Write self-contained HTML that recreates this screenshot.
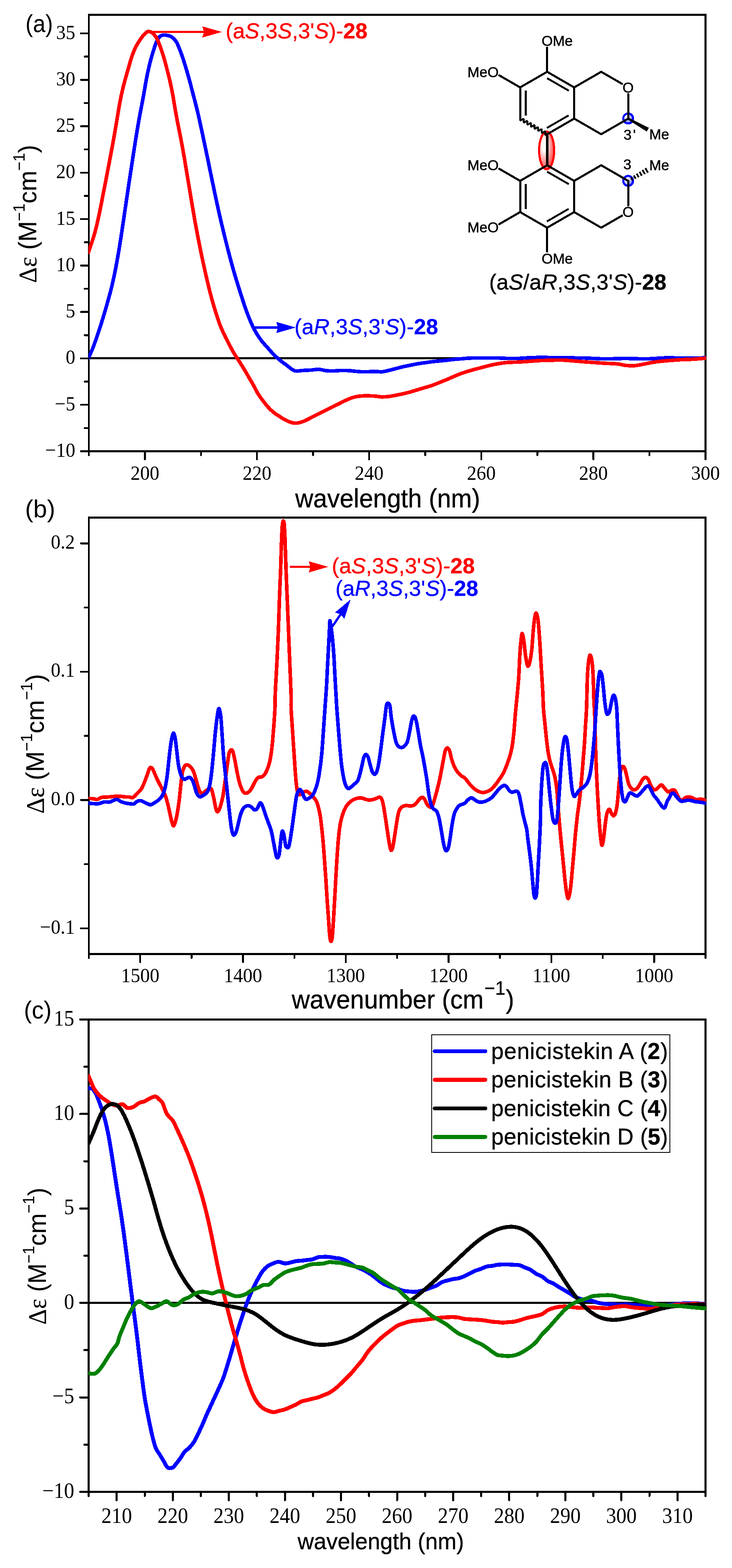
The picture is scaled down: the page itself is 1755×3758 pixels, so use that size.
<!DOCTYPE html>
<html lang="en"><head><meta charset="utf-8"><title>ECD and VCD spectra</title>
<style>html,body{margin:0;padding:0;background:#fff}svg{display:block}</style></head><body>
<svg width="1755" height="3758" viewBox="0 0 1755 3758" shape-rendering="crispEdges">
<rect width="1755" height="3758" fill="#fff"/>
<defs><clipPath id="ca"><rect x="212.0" y="35.5" width="1481.0" height="1046.0"/></clipPath>
<clipPath id="cb"><rect x="212.0" y="1240.5" width="1481.0" height="1046.0"/></clipPath>
<clipPath id="cc"><rect x="211.5" y="2443.5" width="1481.5" height="1132.0"/></clipPath></defs>
<g id="plot-a">
<line x1="213.0" y1="858.5" x2="1691.5" y2="858.5" stroke="#000" stroke-width="5"/>
<rect x="213.00" y="35.50" width="1478.50" height="1046.00" fill="none" stroke="#000" stroke-width="4.6"/>
<path d="M210.8,861.5C211.2,860.5 211.2,860.5 213.3,855.7C215.4,850.8 220.0,841.0 223.3,832.4C226.6,823.8 229.9,814.0 233.3,804.3C236.6,794.7 239.9,784.5 243.1,774.4C246.3,764.3 249.5,753.4 252.3,743.9C255.1,734.4 257.6,725.4 259.9,717.2C262.2,709.0 264.0,702.3 266.0,694.7C267.9,687.1 269.6,679.8 271.5,671.4C273.3,663.1 275.2,653.9 277.0,644.6C278.8,635.3 280.6,625.4 282.3,615.7C284.0,605.9 285.7,595.9 287.3,586.0C288.9,576.0 290.4,566.0 292.0,556.0C293.5,546.1 294.9,536.1 296.4,526.1C297.9,516.1 299.3,506.2 300.8,496.2C302.2,486.2 303.7,476.2 305.2,466.3C306.7,456.3 308.1,446.3 309.6,436.3C311.1,426.4 312.6,416.4 314.2,406.4C315.7,396.4 317.2,386.6 318.7,376.5C320.3,366.4 321.8,356.3 323.5,345.7C325.2,335.0 326.9,323.7 328.8,312.7C330.6,301.7 332.7,289.9 334.5,279.8C336.4,269.7 338.2,260.4 339.8,252.0C341.4,243.7 342.7,236.8 344.0,229.8C345.2,222.7 346.3,216.3 347.5,209.6C348.6,202.9 349.8,196.3 351.0,189.8C352.3,183.2 353.6,176.7 355.0,170.3C356.4,164.0 357.8,157.7 359.3,151.6C360.8,145.6 362.4,139.6 364.1,134.0C365.7,128.3 367.3,123.0 369.0,117.9C370.6,112.7 372.3,107.3 374.0,103.2C375.6,99.1 377.3,95.9 379.0,93.2C380.6,90.5 382.2,88.4 384.0,86.9C385.8,85.4 387.8,84.9 389.8,84.4C391.7,83.9 393.4,83.9 395.6,84.1C397.8,84.2 400.6,84.6 403.1,85.2C405.6,85.9 408.2,86.6 410.6,87.9C412.9,89.2 415.1,91.1 417.2,93.2C419.3,95.4 421.2,97.7 423.0,100.7C424.8,103.8 426.4,107.6 428.0,111.5C429.7,115.4 431.3,119.6 433.0,124.0C434.7,128.5 436.3,133.4 438.0,138.3C439.7,143.3 441.3,148.5 443.0,153.7C444.6,158.9 446.3,164.4 447.9,169.8C449.5,175.2 451.1,180.8 452.6,186.3C454.2,191.8 455.6,197.4 457.1,202.8C458.5,208.3 459.8,213.5 461.2,219.0C462.6,224.4 463.9,229.4 465.5,235.4C467.0,241.3 468.7,247.5 470.4,254.5C472.2,261.5 474.1,269.3 475.9,277.2C477.7,285.1 479.5,293.4 481.3,301.9C483.2,310.4 485.0,319.1 486.9,328.2C488.9,337.4 491.0,347.0 493.0,356.7C495.1,366.4 497.2,376.5 499.2,386.5C501.3,396.4 503.3,406.4 505.3,416.4C507.4,426.4 509.4,436.3 511.5,446.3C513.6,456.3 515.6,466.3 517.8,476.2C519.9,486.2 522.1,496.2 524.3,506.2C526.5,516.1 528.8,526.1 531.2,536.1C533.6,546.1 536.0,556.0 538.4,566.0C540.9,576.0 543.4,586.0 545.9,595.9C548.5,605.9 551.1,616.0 553.7,625.6C556.3,635.3 559.1,645.1 561.6,654.0C564.2,662.8 566.7,671.2 569.1,678.7C571.4,686.3 573.5,692.8 575.6,699.5C577.8,706.2 579.7,712.3 581.9,719.1C584.1,725.8 586.4,733.0 588.9,740.1C591.4,747.3 594.2,754.8 597.2,761.9C600.1,769.1 603.2,776.5 606.4,783.1C609.6,789.7 612.8,795.6 616.4,801.4C620.0,807.2 623.9,812.8 628.0,818.0C632.2,823.3 636.9,828.0 641.3,833.0C645.7,838.0 649.9,843.1 654.6,848.0C659.3,852.8 664.3,857.5 669.6,861.9C674.8,866.4 680.1,870.1 686.2,874.6C692.3,879.0 699.5,886.3 706.2,888.5C712.8,890.7 719.5,888.1 726.1,887.9C732.8,887.6 739.7,887.3 746.1,886.9C752.4,886.4 758.2,884.9 764.3,885.2C770.4,885.5 776.3,887.9 782.6,888.5C789.0,889.1 796.5,889.0 802.6,888.9C808.7,888.8 813.1,887.9 819.2,887.9C825.3,887.8 832.5,888.1 839.2,888.5C845.8,889.0 853.0,890.1 859.1,890.5C865.2,891.0 868.9,891.2 875.7,891.2C882.5,891.1 893.5,890.2 900.0,890.2C906.5,890.2 909.5,891.6 914.9,891.2C920.3,890.8 926.6,889.1 932.4,887.7C938.2,886.4 944.0,884.7 949.8,883.2C955.6,881.7 961.5,880.0 967.3,878.7C973.1,877.3 978.9,876.3 984.7,875.2C990.6,874.0 996.4,872.7 1002.2,871.7C1008.0,870.7 1013.8,870.0 1019.7,869.2C1025.5,868.4 1031.3,867.5 1037.1,866.8C1042.9,866.1 1048.7,865.6 1054.6,865.0C1060.4,864.5 1066.2,863.9 1072.0,863.3C1077.8,862.7 1083.7,861.8 1089.5,861.2C1095.3,860.6 1101.1,860.3 1106.9,859.8C1112.8,859.3 1118.6,858.7 1124.4,858.4C1130.2,858.1 1136.0,858.1 1141.8,858.1C1147.7,858.0 1153.5,858.1 1159.3,858.1C1165.1,858.1 1170.9,858.1 1176.8,858.1C1182.6,858.1 1188.4,857.9 1194.2,858.1C1200.0,858.2 1205.9,858.6 1211.7,858.8C1217.5,858.9 1223.3,859.1 1229.1,859.1C1234.9,859.1 1240.8,859.0 1246.6,858.8C1252.4,858.5 1258.2,858.0 1264.0,857.7C1269.9,857.4 1275.5,857.2 1281.5,857.0C1287.5,856.8 1293.7,856.3 1300.0,856.3C1306.3,856.3 1311.3,856.9 1319.6,857.1C1327.8,857.3 1336.2,857.4 1349.5,857.6C1362.8,857.8 1382.8,857.7 1399.4,858.1C1416.0,858.5 1432.6,859.9 1449.3,860.1C1465.9,860.3 1482.5,859.1 1499.1,859.1C1515.8,859.1 1532.4,860.3 1549.0,860.1C1565.6,859.9 1582.3,857.9 1598.9,857.6C1615.5,857.4 1633.4,858.6 1648.8,858.6C1664.1,858.6 1683.4,857.8 1691.1,857.6C1698.9,857.4 1694.5,857.5 1695.1,857.5" fill="none" stroke="#0000ff" stroke-width="8.6" stroke-linejoin="round" stroke-linecap="butt" clip-path="url(#ca)"/>
<path d="M210.8,608.1C211.2,606.9 211.8,605.3 213.3,600.9C214.8,596.5 217.7,588.4 219.9,581.8C222.1,575.2 224.2,568.5 226.3,561.3C228.3,554.2 230.3,546.7 232.2,539.0C234.0,531.2 235.8,523.2 237.5,514.9C239.2,506.6 240.9,498.0 242.6,489.3C244.3,480.7 246.0,471.8 247.8,462.9C249.5,454.1 251.3,445.2 253.0,436.3C254.7,427.5 256.4,418.6 258.1,409.7C259.8,400.9 261.5,392.0 263.2,383.1C264.8,374.3 266.5,365.4 268.2,356.5C269.8,347.6 271.5,338.8 273.1,329.7C274.7,320.5 276.3,311.4 277.9,301.7C279.6,292.0 281.1,281.8 282.9,271.5C284.6,261.2 286.5,250.1 288.5,239.8C290.6,229.4 292.9,218.7 295.2,209.3C297.5,199.8 300.0,191.1 302.2,183.2C304.4,175.3 306.4,168.6 308.3,161.9C310.2,155.3 311.8,149.2 313.7,143.3C315.6,137.4 317.5,131.6 319.5,126.3C321.6,120.9 323.8,115.9 326.2,111.4C328.5,106.8 331.1,102.7 333.6,98.7C336.2,94.7 339.0,90.7 341.6,87.4C344.1,84.1 347.1,81.0 349.0,79.1C351.0,77.2 352.1,76.6 353.2,75.9C354.3,75.3 354.8,75.3 355.7,75.3C356.6,75.2 357.3,75.4 358.5,75.8C359.8,76.1 361.3,76.2 363.2,77.4C365.1,78.7 367.7,80.9 369.8,83.3C371.9,85.6 373.8,88.1 375.6,91.6C377.5,95.0 379.4,99.7 381.2,104.0C382.9,108.4 384.7,113.0 386.4,117.9C388.1,122.7 389.8,128.0 391.4,133.3C393.0,138.6 394.6,144.2 396.1,149.8C397.6,155.3 399.1,160.8 400.5,166.4C402.0,171.9 403.3,177.5 404.7,183.0C406.0,188.5 407.3,194.1 408.6,199.6C409.8,205.2 411.0,210.6 412.1,216.3C413.2,221.9 414.2,227.3 415.3,233.3C416.3,239.3 417.3,245.3 418.4,252.2C419.6,259.1 420.8,266.7 422.3,274.6C423.7,282.6 425.4,291.3 427.1,300.0C428.8,308.7 430.7,317.7 432.5,326.8C434.2,335.8 436.0,345.0 437.7,354.4C439.4,363.9 441.1,373.6 442.7,383.3C444.4,393.1 446.1,403.1 447.7,413.1C449.4,423.0 451.0,433.0 452.7,443.0C454.4,453.0 456.0,462.9 457.7,472.9C459.4,482.9 461.0,492.9 462.7,502.8C464.4,512.8 466.1,522.8 467.9,532.8C469.7,542.7 471.6,552.7 473.5,562.7C475.4,572.7 477.4,582.7 479.4,592.6C481.4,602.5 483.4,612.6 485.5,622.3C487.6,632.0 489.7,641.7 491.8,650.9C493.8,660.0 495.8,668.6 497.9,677.1C499.9,685.6 501.8,693.5 503.9,701.8C506.1,710.0 508.3,718.4 510.7,726.7C513.1,735.1 515.7,743.7 518.4,752.0C521.0,760.2 523.6,768.5 526.6,776.5C529.6,784.4 533.0,792.0 536.6,799.8C540.2,807.5 544.3,815.5 548.2,823.0C552.1,830.5 556.0,838.0 559.9,844.6C563.7,851.3 567.6,856.8 571.5,862.9C575.4,869.0 579.2,874.8 583.1,881.2C587.0,887.6 590.9,894.5 594.8,901.2C598.6,907.8 602.5,914.2 606.4,921.1C610.3,928.0 614.2,936.4 618.0,942.7C621.9,949.1 625.5,953.8 629.7,959.4C633.8,964.9 638.5,971.1 643.0,976.0C647.4,980.9 651.8,985.0 656.3,988.6C660.7,992.2 665.1,994.7 669.6,997.6C674.0,1000.5 678.4,1003.5 682.9,1005.9C687.3,1008.3 692.0,1010.5 696.2,1011.9C700.3,1013.3 703.9,1014.1 707.8,1014.2C711.7,1014.3 715.3,1013.7 719.5,1012.6C723.6,1011.4 728.3,1009.5 732.8,1007.6C737.2,1005.6 741.1,1003.4 746.1,1000.9C751.0,998.4 757.1,995.4 762.7,992.6C768.2,989.8 773.8,987.1 779.3,984.3C784.8,981.5 790.4,978.7 795.9,976.0C801.5,973.2 807.0,970.4 812.6,967.7C818.1,964.9 823.6,961.8 829.2,959.4C834.7,956.9 840.3,954.4 845.8,952.7C851.3,951.0 856.9,950.0 862.4,949.4C868.0,948.7 872.8,948.7 879.1,948.7C885.3,948.7 894.0,948.9 900.0,949.4C906.0,949.8 909.5,951.1 914.9,951.3C920.3,951.4 926.6,950.9 932.4,950.2C938.2,949.5 944.0,948.2 949.8,947.1C955.6,946.0 961.5,944.9 967.3,943.6C973.1,942.3 978.9,940.7 984.7,939.1C990.6,937.4 996.4,935.6 1002.2,933.8C1008.0,932.1 1013.8,930.3 1019.7,928.6C1025.5,926.8 1031.3,925.4 1037.1,923.3C1042.9,921.3 1048.7,918.7 1054.6,916.4C1060.4,914.0 1066.2,911.8 1072.0,909.4C1077.8,906.9 1083.7,904.1 1089.5,901.7C1095.3,899.3 1101.1,896.8 1106.9,894.7C1112.8,892.6 1118.6,890.9 1124.4,889.1C1130.2,887.4 1136.0,885.8 1141.8,884.2C1147.7,882.7 1153.5,881.2 1159.3,879.7C1165.1,878.2 1170.9,876.5 1176.8,875.2C1182.6,873.8 1188.4,872.7 1194.2,871.7C1200.0,870.7 1205.9,869.8 1211.7,869.2C1217.5,868.6 1223.3,868.5 1229.1,868.2C1234.9,867.9 1240.8,867.8 1246.6,867.5C1252.4,867.2 1258.2,866.8 1264.0,866.4C1269.9,866.0 1275.5,865.4 1281.5,865.0C1287.5,864.6 1293.7,864.2 1300.0,864.0C1306.3,863.7 1311.3,863.7 1319.6,863.6C1327.8,863.4 1336.2,862.5 1349.5,863.1C1362.8,863.7 1382.8,865.8 1399.4,867.1C1416.0,868.3 1436.0,869.7 1449.3,870.6C1462.6,871.4 1470.9,871.2 1479.2,872.1C1487.5,872.9 1492.5,874.8 1499.1,875.6C1505.8,876.3 1512.4,876.9 1519.1,876.6C1525.7,876.2 1529.9,875.1 1539.0,873.6C1548.2,872.0 1559.8,868.9 1573.9,867.1C1588.1,865.3 1609.7,863.6 1623.8,862.6C1637.9,861.6 1647.5,861.8 1658.7,861.1C1670.0,860.4 1685.1,859.1 1691.1,858.6C1697.2,858.1 1694.5,858.3 1695.1,858.3" fill="none" stroke="#ff0000" stroke-width="8.6" stroke-linejoin="round" stroke-linecap="butt" clip-path="url(#ca)"/>
<line x1="213.0" y1="1081.5" x2="213.0" y2="1090.8" stroke="#000" stroke-width="4.5" stroke-linecap="round"/>
<line x1="481.8" y1="1081.5" x2="481.8" y2="1090.8" stroke="#000" stroke-width="4.5" stroke-linecap="round"/>
<line x1="750.6" y1="1081.5" x2="750.6" y2="1090.8" stroke="#000" stroke-width="4.5" stroke-linecap="round"/>
<line x1="1019.5" y1="1081.5" x2="1019.5" y2="1090.8" stroke="#000" stroke-width="4.5" stroke-linecap="round"/>
<line x1="1288.3" y1="1081.5" x2="1288.3" y2="1090.8" stroke="#000" stroke-width="4.5" stroke-linecap="round"/>
<line x1="1557.1" y1="1081.5" x2="1557.1" y2="1090.8" stroke="#000" stroke-width="4.5" stroke-linecap="round"/>
<line x1="347.4" y1="1081.5" x2="347.4" y2="1100.8" stroke="#000" stroke-width="4.5" stroke-linecap="round"/>
<text transform="translate(347.4,1149.5) scale(1.000,1.075)" font-family='"Liberation Serif", "DejaVu Serif", serif' font-size="46.0" text-anchor="middle">200</text>
<line x1="616.2" y1="1081.5" x2="616.2" y2="1100.8" stroke="#000" stroke-width="4.5" stroke-linecap="round"/>
<text transform="translate(616.2,1149.5) scale(1.000,1.075)" font-family='"Liberation Serif", "DejaVu Serif", serif' font-size="46.0" text-anchor="middle">220</text>
<line x1="885.0" y1="1081.5" x2="885.0" y2="1100.8" stroke="#000" stroke-width="4.5" stroke-linecap="round"/>
<text transform="translate(885.0,1149.5) scale(1.000,1.075)" font-family='"Liberation Serif", "DejaVu Serif", serif' font-size="46.0" text-anchor="middle">240</text>
<line x1="1153.9" y1="1081.5" x2="1153.9" y2="1100.8" stroke="#000" stroke-width="4.5" stroke-linecap="round"/>
<text transform="translate(1153.9,1149.5) scale(1.000,1.075)" font-family='"Liberation Serif", "DejaVu Serif", serif' font-size="46.0" text-anchor="middle">260</text>
<line x1="1422.7" y1="1081.5" x2="1422.7" y2="1100.8" stroke="#000" stroke-width="4.5" stroke-linecap="round"/>
<text transform="translate(1422.7,1149.5) scale(1.000,1.075)" font-family='"Liberation Serif", "DejaVu Serif", serif' font-size="46.0" text-anchor="middle">280</text>
<line x1="1691.5" y1="1081.5" x2="1691.5" y2="1100.8" stroke="#000" stroke-width="4.5" stroke-linecap="round"/>
<text transform="translate(1691.5,1149.5) scale(1.000,1.075)" font-family='"Liberation Serif", "DejaVu Serif", serif' font-size="46.0" text-anchor="middle">300</text>
<line x1="213.0" y1="1025.9" x2="203.2" y2="1025.9" stroke="#000" stroke-width="4.5" stroke-linecap="round"/>
<line x1="213.0" y1="914.6" x2="203.2" y2="914.6" stroke="#000" stroke-width="4.5" stroke-linecap="round"/>
<line x1="213.0" y1="803.3" x2="203.2" y2="803.3" stroke="#000" stroke-width="4.5" stroke-linecap="round"/>
<line x1="213.0" y1="692.0" x2="203.2" y2="692.0" stroke="#000" stroke-width="4.5" stroke-linecap="round"/>
<line x1="213.0" y1="580.7" x2="203.2" y2="580.7" stroke="#000" stroke-width="4.5" stroke-linecap="round"/>
<line x1="213.0" y1="469.5" x2="203.2" y2="469.5" stroke="#000" stroke-width="4.5" stroke-linecap="round"/>
<line x1="213.0" y1="358.2" x2="203.2" y2="358.2" stroke="#000" stroke-width="4.5" stroke-linecap="round"/>
<line x1="213.0" y1="246.9" x2="203.2" y2="246.9" stroke="#000" stroke-width="4.5" stroke-linecap="round"/>
<line x1="213.0" y1="135.6" x2="203.2" y2="135.6" stroke="#000" stroke-width="4.5" stroke-linecap="round"/>
<line x1="213.0" y1="1081.5" x2="194.2" y2="1081.5" stroke="#000" stroke-width="4.5" stroke-linecap="round"/>
<text transform="translate(180.5,1095.0) scale(1.000,1.075)" font-family='"Liberation Serif", "DejaVu Serif", serif' font-size="46.0" text-anchor="end">−10</text>
<line x1="213.0" y1="970.2" x2="194.2" y2="970.2" stroke="#000" stroke-width="4.5" stroke-linecap="round"/>
<text transform="translate(180.5,983.7) scale(1.000,1.075)" font-family='"Liberation Serif", "DejaVu Serif", serif' font-size="46.0" text-anchor="end">−5</text>
<line x1="213.0" y1="858.9" x2="194.2" y2="858.9" stroke="#000" stroke-width="4.5" stroke-linecap="round"/>
<text transform="translate(180.5,872.4) scale(1.000,1.075)" font-family='"Liberation Serif", "DejaVu Serif", serif' font-size="46.0" text-anchor="end">0</text>
<line x1="213.0" y1="747.7" x2="194.2" y2="747.7" stroke="#000" stroke-width="4.5" stroke-linecap="round"/>
<text transform="translate(180.5,761.2) scale(1.000,1.075)" font-family='"Liberation Serif", "DejaVu Serif", serif' font-size="46.0" text-anchor="end">5</text>
<line x1="213.0" y1="636.4" x2="194.2" y2="636.4" stroke="#000" stroke-width="4.5" stroke-linecap="round"/>
<text transform="translate(180.5,649.9) scale(1.000,1.075)" font-family='"Liberation Serif", "DejaVu Serif", serif' font-size="46.0" text-anchor="end">10</text>
<line x1="213.0" y1="525.1" x2="194.2" y2="525.1" stroke="#000" stroke-width="4.5" stroke-linecap="round"/>
<text transform="translate(180.5,538.6) scale(1.000,1.075)" font-family='"Liberation Serif", "DejaVu Serif", serif' font-size="46.0" text-anchor="end">15</text>
<line x1="213.0" y1="413.8" x2="194.2" y2="413.8" stroke="#000" stroke-width="4.5" stroke-linecap="round"/>
<text transform="translate(180.5,427.3) scale(1.000,1.075)" font-family='"Liberation Serif", "DejaVu Serif", serif' font-size="46.0" text-anchor="end">20</text>
<line x1="213.0" y1="302.6" x2="194.2" y2="302.6" stroke="#000" stroke-width="4.5" stroke-linecap="round"/>
<text transform="translate(180.5,316.1) scale(1.000,1.075)" font-family='"Liberation Serif", "DejaVu Serif", serif' font-size="46.0" text-anchor="end">25</text>
<line x1="213.0" y1="191.3" x2="194.2" y2="191.3" stroke="#000" stroke-width="4.5" stroke-linecap="round"/>
<text transform="translate(180.5,204.8) scale(1.000,1.075)" font-family='"Liberation Serif", "DejaVu Serif", serif' font-size="46.0" text-anchor="end">30</text>
<line x1="213.0" y1="80.0" x2="194.2" y2="80.0" stroke="#000" stroke-width="4.5" stroke-linecap="round"/>
<text transform="translate(180.5,93.5) scale(1.000,1.075)" font-family='"Liberation Serif", "DejaVu Serif", serif' font-size="46.0" text-anchor="end">35</text>
<text transform="translate(929.5,1215.8) scale(1.000,1.035)" font-family='"Liberation Sans", "DejaVu Sans", sans-serif' font-size="60.0" text-anchor="middle" stroke="#000" stroke-width="0.5">wavelength (nm)</text>
<text stroke="#000" stroke-width="0.15" transform="translate(86.6,512.6) rotate(-90) scale(0.986,1.03)" font-family='"Liberation Sans", "DejaVu Sans", sans-serif' font-size="60.0" text-anchor="middle"><tspan font-family='"Liberation Serif", "DejaVu Serif", serif'>Δε</tspan> (M<tspan font-size="37.5" dy="-26.5">−1</tspan><tspan dy="26.5">cm</tspan><tspan font-size="37.5" dy="-26.5">−1</tspan><tspan dy="26.5">)</tspan></text>
<text transform="translate(61.0,76.8) scale(0.900,1.000)" font-family='"Liberation Sans", "DejaVu Sans", sans-serif' font-size="60.0" text-anchor="start">(a)</text>
<line x1="358.0" y1="76.6" x2="489.0" y2="76.6" stroke="#ff0000" stroke-width="5.4"/>
<path d="M532.0,76.6 L485.0,90.0 L489.0,76.6 L485.0,63.2 Z" fill="#ff0000"/>
<text x="541.0" y="91.5" font-family='"Liberation Sans", "DejaVu Sans", sans-serif' font-size="52.0" fill="#ff0000" stroke="#ff0000" stroke-width="0.5" textLength="340.0" lengthAdjust="spacing" text-anchor="start">(a<tspan font-style="italic">S</tspan>,3<tspan font-style="italic">S</tspan>,3'<tspan font-style="italic">S</tspan>)-<tspan font-weight="bold">28</tspan></text>
<line x1="611.4" y1="784.9" x2="666.3" y2="784.9" stroke="#0000ff" stroke-width="5.4"/>
<path d="M709.3,784.9 L662.3,798.3 L666.3,784.9 L662.3,771.5 Z" fill="#0000ff"/>
<text x="706.0" y="800.5" font-family='"Liberation Sans", "DejaVu Sans", sans-serif' font-size="52.0" fill="#0000ff" stroke="#0000ff" stroke-width="0.5" textLength="344.5" lengthAdjust="spacing" text-anchor="start">(a<tspan font-style="italic">R</tspan>,3<tspan font-style="italic">S</tspan>,3'<tspan font-style="italic">S</tspan>)-<tspan font-weight="bold">28</tspan></text>
</g>
<g id="plot-b">
<rect x="213.00" y="1240.50" width="1478.50" height="1046.00" fill="none" stroke="#000" stroke-width="4.6"/>
<path d="M210.8,1913.7C211.2,1913.7 210.9,1913.7 213.3,1913.8C215.7,1913.9 221.6,1914.1 224.9,1914.5C228.3,1914.9 230.2,1916.7 233.3,1916.1C236.3,1915.6 238.8,1912.1 243.2,1911.1C247.7,1910.1 254.9,1910.5 259.9,1910.1C264.8,1909.8 268.7,1909.1 273.2,1908.8C277.6,1908.5 282.0,1908.3 286.5,1908.5C290.9,1908.6 295.9,1909.5 299.8,1909.8C303.6,1910.1 306.7,1909.8 309.7,1910.1C312.8,1910.5 315.3,1912.7 318.0,1911.8C320.8,1910.9 322.7,1908.2 326.4,1904.5C330.0,1900.8 335.8,1895.9 339.7,1889.5C343.5,1883.2 346.6,1874.0 349.6,1866.3C352.7,1858.5 355.9,1847.4 357.9,1843.0C360.0,1838.5 360.5,1839.5 361.9,1839.7C363.3,1839.8 363.9,1839.2 366.3,1843.6C368.6,1848.1 372.9,1859.2 376.2,1866.3C379.6,1873.3 382.9,1879.6 386.2,1886.2C389.5,1892.9 393.4,1898.9 396.2,1906.2C398.9,1913.4 400.6,1920.6 402.8,1929.4C405.0,1938.3 407.8,1952.1 409.5,1959.4C411.1,1966.6 411.7,1969.3 412.8,1972.7C413.9,1976.0 414.9,1979.6 416.1,1979.3C417.3,1979.0 418.7,1975.4 420.1,1971.0C421.5,1966.6 422.9,1961.3 424.4,1952.7C426.0,1944.1 427.8,1932.8 429.4,1919.5C431.1,1906.2 433.0,1884.5 434.4,1872.9C435.8,1861.3 436.4,1855.7 437.7,1849.6C439.1,1843.5 441.1,1839.1 442.7,1836.3C444.4,1833.6 446.1,1833.3 447.7,1833.0C449.4,1832.7 450.8,1833.3 452.7,1834.7C454.6,1836.0 457.4,1838.8 459.4,1841.3C461.3,1843.8 462.7,1845.5 464.3,1849.6C466.0,1853.8 467.4,1859.6 469.3,1866.3C471.3,1872.9 474.0,1884.0 476.0,1889.5C477.9,1895.1 479.3,1897.6 481.0,1899.5C482.6,1901.4 484.0,1901.7 486.0,1901.2C487.9,1900.6 490.4,1897.8 492.6,1896.2C494.8,1894.5 497.3,1892.3 499.3,1891.2C501.2,1890.1 502.9,1889.2 504.2,1889.5C505.6,1889.8 506.2,1889.0 507.6,1892.9C508.9,1896.7 510.9,1905.3 512.6,1912.8C514.2,1920.3 516.2,1932.3 517.5,1937.7C518.9,1943.2 519.6,1944.8 520.9,1945.4C522.1,1945.9 523.8,1943.7 525.2,1941.1C526.6,1938.4 527.7,1934.7 529.2,1929.4C530.7,1924.2 532.5,1918.3 534.2,1909.5C535.8,1900.6 537.5,1887.9 539.2,1876.2C540.8,1864.6 542.5,1851.3 544.1,1839.7C545.8,1828.0 547.5,1813.5 549.1,1806.4C550.8,1799.3 552.5,1797.9 554.0,1797.1C555.5,1796.3 556.8,1797.1 558.3,1801.4C559.9,1805.7 561.6,1815.0 563.3,1823.0C565.0,1831.1 566.6,1841.3 568.3,1849.6C570.0,1857.9 571.6,1866.5 573.3,1872.9C574.9,1879.3 576.6,1883.7 578.3,1887.9C579.9,1892.0 581.4,1895.6 583.3,1897.8C585.1,1900.1 587.0,1901.2 589.2,1901.2C591.5,1901.2 594.2,1899.8 596.6,1897.8C598.9,1895.9 601.0,1893.1 603.2,1889.5C605.4,1885.9 607.9,1879.8 609.9,1876.2C611.8,1872.6 613.2,1870.1 614.8,1867.9C616.5,1865.7 617.9,1863.9 619.8,1862.9C621.8,1862.0 624.3,1863.1 626.5,1862.3C628.7,1861.4 630.9,1860.6 633.1,1857.9C635.3,1855.3 637.6,1851.6 639.8,1846.3C642.0,1841.0 644.5,1834.7 646.4,1826.4C648.4,1818.0 649.9,1809.2 651.4,1796.4C653.0,1783.7 654.5,1765.9 655.7,1749.9C657.0,1733.8 658.4,1714.3 659.1,1700.0C659.7,1685.7 659.1,1682.4 659.9,1663.9C660.6,1645.5 662.6,1614.1 663.8,1589.1C665.1,1564.2 666.3,1539.3 667.3,1514.3C668.3,1489.4 668.9,1464.4 669.8,1439.5C670.7,1414.6 672.0,1388.0 672.8,1364.7C673.6,1341.4 674.1,1317.3 674.8,1299.9C675.5,1282.4 676.1,1268.4 676.8,1260.0C677.5,1251.5 678.1,1249.8 678.8,1249.0C679.6,1248.1 680.5,1248.1 681.3,1255.0C682.0,1261.8 682.5,1271.6 683.3,1289.9C684.0,1308.2 684.9,1339.8 685.8,1364.7C686.7,1389.6 687.8,1414.6 688.8,1439.5C689.8,1464.4 690.8,1489.4 691.8,1514.3C692.8,1539.3 693.8,1564.2 694.8,1589.1C695.8,1614.1 697.2,1645.5 697.8,1663.9C698.3,1682.4 697.4,1685.7 698.0,1700.0C698.6,1714.3 700.2,1733.3 701.3,1749.9C702.4,1766.5 703.5,1783.1 704.6,1799.8C705.7,1816.4 706.8,1835.2 707.9,1849.6C709.0,1864.0 710.2,1877.6 711.3,1886.2C712.4,1894.8 713.2,1898.1 714.6,1901.2C716.0,1904.2 717.6,1904.9 719.6,1904.5C721.5,1904.1 724.0,1900.1 726.2,1898.8C728.4,1897.6 730.7,1896.8 732.9,1896.8C735.1,1896.8 735.6,1895.5 739.5,1898.8C743.4,1902.1 752.4,1910.9 756.3,1916.6C760.2,1922.4 761.0,1926.6 762.9,1933.3C764.9,1939.9 766.5,1948.2 767.9,1956.5C769.3,1964.8 770.1,1973.2 771.2,1983.1C772.3,1993.1 773.5,2003.6 774.6,2016.4C775.7,2029.1 776.8,2044.6 777.9,2059.6C779.0,2074.6 780.1,2089.5 781.2,2106.2C782.3,2122.8 783.4,2142.7 784.5,2159.4C785.6,2176.0 786.9,2192.6 787.9,2205.9C788.8,2219.2 789.4,2230.8 790.2,2239.2C791.0,2247.5 791.9,2254.1 792.9,2255.8C793.8,2257.4 795.2,2255.8 796.2,2249.1C797.2,2242.5 797.9,2229.7 798.8,2215.9C799.8,2202.0 800.9,2182.6 801.8,2166.0C802.8,2149.4 803.5,2133.9 804.5,2116.1C805.5,2098.4 806.7,2076.8 807.8,2059.6C808.9,2042.4 809.9,2026.9 811.1,2013.1C812.4,1999.2 813.8,1986.5 815.5,1976.5C817.1,1966.5 819.1,1959.9 821.1,1953.2C823.2,1946.6 825.3,1941.3 827.8,1936.6C830.3,1931.9 833.0,1928.2 836.1,1924.9C839.1,1921.7 842.7,1919.2 846.1,1917.3C849.4,1915.4 852.7,1914.1 856.0,1913.3C859.4,1912.5 863.0,1912.0 866.0,1912.3C869.0,1912.6 871.5,1914.1 874.3,1915.0C877.1,1915.8 879.6,1917.0 882.6,1917.3C885.7,1917.6 889.3,1917.3 892.6,1916.6C895.9,1916.0 899.8,1914.3 902.6,1913.3C905.3,1912.3 907.3,1910.6 909.2,1910.6C911.2,1910.6 912.7,1910.6 914.2,1913.3C915.8,1916.0 917.2,1920.5 918.5,1926.6C919.9,1932.7 921.0,1940.5 922.5,1949.9C924.0,1959.3 925.9,1972.0 927.5,1983.1C929.2,1994.2 931.1,2008.1 932.5,2016.4C933.9,2024.7 934.8,2029.4 935.8,2033.0C936.8,2036.6 937.5,2038.5 938.5,2038.0C939.5,2037.4 940.6,2034.9 941.8,2029.7C943.0,2024.4 944.3,2015.8 945.8,2006.4C947.3,1997.0 949.1,1983.1 950.8,1973.2C952.5,1963.2 953.8,1952.9 955.8,1946.6C957.7,1940.2 959.7,1937.6 962.4,1934.9C965.2,1932.3 969.1,1931.1 972.4,1930.6C975.7,1930.0 979.1,1931.7 982.4,1931.6C985.7,1931.5 989.5,1931.4 992.4,1929.9C995.2,1928.5 997.4,1925.4 999.8,1922.8C1002.1,1920.2 1004.2,1916.4 1006.4,1914.5C1008.6,1912.5 1011.1,1911.0 1013.1,1911.1C1015.0,1911.3 1016.4,1913.0 1018.0,1915.5C1019.7,1918.0 1021.4,1923.2 1023.0,1926.1C1024.7,1929.0 1026.1,1931.4 1028.0,1932.8C1030.0,1934.1 1032.7,1936.1 1034.7,1934.4C1036.6,1932.8 1037.7,1928.6 1039.7,1922.8C1041.6,1917.0 1044.1,1907.8 1046.3,1899.5C1048.5,1891.2 1050.7,1882.9 1053.0,1872.9C1055.2,1862.9 1057.7,1849.6 1059.6,1839.7C1061.5,1829.7 1063.2,1820.0 1064.6,1813.1C1066.0,1806.1 1066.5,1801.5 1067.9,1798.1C1069.3,1794.7 1071.2,1792.2 1072.9,1792.4C1074.6,1792.7 1076.2,1795.2 1077.9,1799.8C1079.6,1804.3 1080.9,1813.3 1082.9,1819.7C1084.8,1826.1 1087.0,1832.7 1089.5,1838.0C1092.0,1843.3 1095.1,1847.7 1097.8,1851.3C1100.6,1854.9 1103.4,1857.4 1106.2,1859.6C1108.9,1861.8 1112.0,1862.4 1114.5,1864.6C1117.0,1866.8 1118.9,1870.1 1121.1,1872.9C1123.3,1875.7 1125.3,1878.4 1127.8,1881.2C1130.3,1884.0 1133.0,1887.0 1136.1,1889.5C1139.1,1892.0 1142.4,1894.5 1146.1,1896.2C1149.7,1897.8 1154.4,1899.2 1157.7,1899.5C1161.0,1899.8 1163.0,1898.9 1166.0,1897.8C1169.0,1896.7 1172.7,1895.3 1176.0,1892.9C1179.3,1890.4 1182.6,1886.8 1186.0,1882.9C1189.3,1879.0 1192.5,1874.6 1195.9,1869.6C1199.4,1864.6 1203.8,1858.2 1206.7,1853.0C1209.5,1847.7 1211.1,1843.5 1213.3,1838.0C1215.5,1832.4 1218.0,1825.5 1220.0,1819.7C1221.9,1813.9 1223.4,1809.7 1224.9,1803.1C1226.5,1796.4 1228.0,1788.7 1229.3,1779.8C1230.5,1770.9 1231.6,1759.9 1232.6,1749.9C1233.5,1739.9 1234.2,1728.3 1234.9,1720.0C1235.6,1711.6 1235.2,1715.2 1236.6,1700.0C1238.0,1684.8 1241.7,1650.8 1243.3,1629.0C1244.9,1607.2 1245.2,1585.8 1246.3,1569.2C1247.3,1552.6 1248.8,1537.8 1249.8,1529.3C1250.7,1520.8 1251.2,1517.5 1252.2,1518.3C1253.2,1519.1 1254.5,1525.8 1255.7,1534.3C1257.0,1542.7 1258.4,1559.6 1259.7,1569.2C1261.1,1578.7 1262.6,1587.0 1263.7,1591.6C1264.8,1596.2 1265.2,1597.0 1266.2,1596.6C1267.2,1596.2 1268.3,1595.4 1269.7,1589.1C1271.1,1582.9 1273.2,1572.5 1274.7,1559.2C1276.2,1545.9 1277.4,1522.6 1278.7,1509.3C1279.9,1496.0 1281.0,1486.1 1282.2,1479.4C1283.3,1472.8 1284.4,1468.6 1285.7,1469.4C1286.9,1470.3 1288.3,1474.4 1289.7,1484.4C1291.0,1494.4 1292.4,1511.8 1293.6,1529.3C1294.9,1546.7 1295.9,1568.3 1297.1,1589.1C1298.4,1609.9 1300.1,1635.5 1301.1,1654.0C1302.1,1672.4 1302.2,1686.8 1303.1,1700.0C1304.0,1713.2 1305.2,1721.1 1306.4,1733.3C1307.6,1745.4 1309.0,1761.0 1310.4,1773.2C1311.8,1785.3 1313.2,1797.3 1314.7,1806.4C1316.3,1815.5 1318.0,1821.9 1319.7,1828.0C1321.4,1834.1 1323.0,1837.7 1324.7,1843.0C1326.4,1848.2 1328.3,1854.1 1329.7,1859.6C1331.1,1865.1 1332.0,1869.6 1333.0,1876.2C1334.0,1882.9 1334.8,1890.1 1335.7,1899.5C1336.5,1908.9 1337.0,1920.5 1338.0,1932.8C1338.9,1945.0 1340.2,1960.3 1341.3,1973.2C1342.4,1986.0 1343.5,1998.1 1344.6,2009.7C1345.7,2021.4 1346.9,2031.9 1348.0,2043.0C1349.1,2054.1 1350.2,2065.1 1351.3,2076.2C1352.4,2087.3 1353.5,2099.5 1354.6,2109.5C1355.7,2119.5 1356.7,2128.8 1357.9,2136.1C1359.2,2143.4 1360.5,2152.8 1361.9,2153.4C1363.3,2153.9 1365.0,2146.2 1366.3,2139.4C1367.5,2132.6 1368.5,2123.3 1369.6,2112.8C1370.7,2102.3 1371.8,2088.4 1372.9,2076.2C1374.0,2064.0 1375.1,2052.4 1376.2,2039.7C1377.3,2026.9 1378.2,2014.2 1379.6,1999.8C1380.9,1985.3 1382.9,1967.1 1384.5,1953.2C1386.2,1939.3 1387.9,1930.6 1389.5,1916.1C1391.2,1901.6 1393.1,1881.2 1394.5,1866.3C1395.9,1851.3 1396.7,1840.2 1397.8,1826.4C1398.9,1812.5 1400.2,1797.0 1401.2,1783.1C1402.1,1769.3 1402.7,1757.1 1403.5,1743.2C1404.3,1729.4 1405.3,1720.7 1406.2,1700.0C1407.0,1679.3 1407.5,1638.4 1408.4,1619.1C1409.2,1599.7 1410.3,1592.3 1411.3,1584.1C1412.3,1576.0 1413.2,1571.0 1414.3,1570.2C1415.5,1569.3 1417.1,1571.8 1418.3,1579.2C1419.6,1586.5 1420.8,1595.8 1421.8,1614.1C1422.8,1632.4 1423.7,1674.6 1424.3,1688.9C1424.9,1703.2 1425.0,1689.8 1425.4,1700.0C1425.8,1710.2 1426.2,1730.5 1426.8,1749.9C1427.3,1769.3 1428.0,1795.9 1428.8,1816.4C1429.5,1836.9 1430.1,1853.5 1431.1,1872.9C1432.0,1892.3 1433.3,1914.5 1434.4,1932.8C1435.5,1951.0 1436.6,1968.8 1437.7,1982.6C1438.8,1996.5 1440.1,2008.7 1441.1,2015.9C1442.0,2023.1 1442.4,2026.4 1443.4,2025.9C1444.3,2025.3 1445.4,2020.9 1446.7,2012.6C1448.0,2004.2 1449.8,1986.0 1451.0,1976.0C1452.3,1966.0 1453.3,1958.2 1454.4,1952.7C1455.5,1947.2 1456.5,1944.8 1457.7,1942.7C1458.9,1940.6 1460.3,1939.0 1461.7,1940.1C1463.1,1941.2 1464.4,1946.8 1466.0,1949.4C1467.6,1951.9 1469.3,1955.6 1471.0,1955.4C1472.7,1955.1 1474.5,1952.6 1476.0,1947.7C1477.5,1942.8 1478.7,1935.8 1480.0,1926.1C1481.2,1916.4 1482.2,1901.2 1483.3,1889.5C1484.4,1877.9 1485.5,1864.3 1486.6,1856.3C1487.7,1848.2 1488.7,1844.5 1489.9,1841.3C1491.2,1838.1 1492.9,1836.7 1494.3,1837.0C1495.6,1837.3 1496.9,1839.2 1498.3,1843.0C1499.6,1846.7 1501.0,1853.5 1502.6,1859.6C1504.1,1865.7 1505.6,1874.5 1507.6,1879.6C1509.5,1884.6 1512.0,1888.0 1514.2,1890.2C1516.4,1892.4 1518.6,1893.0 1520.9,1892.9C1523.1,1892.7 1525.3,1891.7 1527.5,1889.5C1529.7,1887.3 1531.9,1883.2 1534.2,1879.6C1536.4,1875.9 1538.6,1870.7 1540.8,1867.9C1543.0,1865.1 1545.2,1862.9 1547.5,1862.9C1549.7,1862.9 1552.2,1865.1 1554.1,1867.9C1556.1,1870.7 1557.2,1875.7 1559.1,1879.6C1561.0,1883.4 1563.5,1889.1 1565.8,1891.2C1568.0,1893.3 1570.2,1893.0 1572.4,1892.2C1574.6,1891.4 1576.8,1888.0 1579.1,1886.2C1581.3,1884.4 1583.5,1880.9 1585.7,1881.2C1587.9,1881.5 1590.0,1885.3 1592.4,1887.9C1594.7,1890.5 1598.3,1895.2 1600.0,1896.8C1601.7,1898.5 1601.2,1898.2 1602.7,1897.8C1604.3,1897.5 1607.4,1895.3 1609.4,1894.5C1611.3,1893.7 1612.7,1892.6 1614.4,1892.9C1616.0,1893.1 1617.7,1894.0 1619.3,1896.2C1621.0,1898.4 1622.4,1902.5 1624.3,1906.2C1626.3,1909.8 1628.8,1916.1 1631.0,1917.8C1633.2,1919.5 1635.4,1917.2 1637.6,1916.1C1639.8,1915.0 1642.1,1912.1 1644.3,1911.1C1646.5,1910.1 1648.7,1910.1 1650.9,1910.1C1653.1,1910.1 1655.4,1910.4 1657.6,1911.1C1659.8,1911.9 1662.0,1913.5 1664.2,1914.5C1666.4,1915.4 1668.4,1916.7 1670.9,1916.8C1673.4,1916.9 1676.4,1915.1 1679.2,1915.1C1682.0,1915.1 1685.5,1916.2 1687.5,1916.8C1689.6,1917.4 1690.2,1918.1 1691.5,1918.8C1692.8,1919.5 1694.8,1920.5 1695.5,1920.8" fill="none" stroke="#ff0000" stroke-width="8.6" stroke-linejoin="round" stroke-linecap="butt" clip-path="url(#cb)"/>
<path d="M210.8,1924.9C211.2,1924.9 210.9,1924.9 213.3,1925.1C215.7,1925.3 221.1,1925.9 224.9,1926.1C228.8,1926.3 232.4,1926.8 236.6,1926.1C240.7,1925.4 245.4,1922.8 249.9,1922.1C254.3,1921.4 259.3,1922.8 263.2,1922.1C267.1,1921.4 270.1,1918.8 273.2,1917.8C276.2,1916.8 278.7,1915.6 281.5,1916.1C284.2,1916.7 286.7,1919.7 289.8,1921.1C292.8,1922.5 296.4,1923.6 299.8,1924.4C303.1,1925.3 306.1,1925.7 309.7,1926.1C313.3,1926.5 318.3,1927.6 321.4,1926.8C324.4,1925.9 325.5,1922.4 328.0,1921.1C330.5,1919.8 333.8,1918.8 336.3,1918.8C338.8,1918.8 340.2,1919.9 343.0,1921.1C345.7,1922.3 349.9,1924.8 353.0,1926.1C356.0,1927.4 358.5,1929.0 361.3,1928.8C364.0,1928.5 366.5,1926.3 369.6,1924.4C372.6,1922.6 376.2,1920.8 379.6,1917.8C382.9,1914.7 386.8,1911.4 389.5,1906.2C392.3,1900.9 394.2,1894.5 396.2,1886.2C398.1,1877.9 399.5,1869.0 401.2,1856.3C402.8,1843.5 404.5,1823.6 406.2,1809.7C407.8,1795.9 409.6,1781.9 411.1,1773.2C412.7,1764.4 414.1,1758.3 415.5,1757.2C416.8,1756.1 418.1,1760.0 419.5,1766.5C420.8,1773.0 422.1,1785.3 423.4,1796.4C424.8,1807.5 426.2,1823.3 427.8,1833.0C429.3,1842.7 431.1,1849.3 432.8,1854.6C434.4,1859.9 436.1,1862.4 437.7,1864.6C439.4,1866.8 441.1,1867.8 442.7,1867.9C444.4,1868.0 445.8,1866.1 447.7,1865.3C449.7,1864.4 452.1,1862.2 454.4,1862.9C456.6,1863.6 459.1,1866.3 461.0,1869.6C463.0,1872.9 464.3,1877.9 466.0,1882.9C467.7,1887.9 469.3,1895.3 471.0,1899.5C472.7,1903.7 474.3,1906.2 476.0,1907.8C477.6,1909.5 479.0,1909.8 481.0,1909.5C482.9,1909.2 485.1,1907.8 487.6,1906.2C490.1,1904.5 493.7,1902.3 495.9,1899.5C498.1,1896.7 499.3,1895.6 500.9,1889.5C502.6,1883.4 504.2,1875.1 505.9,1862.9C507.6,1850.7 509.2,1833.6 510.9,1816.4C512.6,1799.2 514.2,1776.5 515.9,1759.9C517.5,1743.2 519.4,1726.9 520.9,1716.6C522.4,1706.3 523.5,1698.0 524.9,1698.0C526.2,1698.0 527.9,1706.3 529.2,1716.6C530.5,1726.9 531.4,1744.3 532.5,1759.9C533.6,1775.4 534.4,1793.1 535.8,1809.7C537.2,1826.4 539.2,1843.5 540.8,1859.6C542.5,1875.7 544.1,1890.6 545.8,1906.2C547.5,1921.7 549.2,1939.4 550.8,1952.7C552.3,1966.0 553.8,1978.2 555.1,1986.0C556.4,1993.7 557.3,1996.8 558.4,1999.3C559.5,2001.7 560.3,2002.0 561.6,2000.9C563.0,1999.8 565.0,1997.3 566.6,1992.6C568.3,1987.9 570.0,1979.3 571.6,1972.7C573.3,1966.0 574.7,1958.5 576.6,1952.7C578.5,1946.9 581.0,1941.2 583.3,1937.7C585.5,1934.3 587.7,1933.2 589.9,1932.1C592.1,1931.0 594.3,1930.7 596.6,1931.1C598.8,1931.5 601.0,1932.8 603.2,1934.4C605.4,1936.1 607.6,1940.5 609.9,1941.1C612.1,1941.6 614.6,1940.0 616.5,1937.7C618.4,1935.5 620.1,1930.0 621.5,1927.8C622.9,1925.5 623.4,1923.6 624.8,1924.4C626.2,1925.3 627.9,1928.0 629.8,1932.8C631.7,1937.5 634.2,1946.3 636.5,1952.7C638.7,1959.1 640.9,1964.9 643.1,1971.0C645.3,1977.1 647.8,1982.3 649.8,1989.3C651.7,1996.2 653.1,2004.2 654.7,2012.6C656.4,2020.9 658.3,2032.2 659.7,2039.2C661.1,2046.1 661.9,2051.5 663.1,2054.1C664.2,2056.8 665.3,2056.5 666.4,2055.1C667.5,2053.7 668.6,2052.3 669.7,2045.8C670.8,2039.3 671.9,2024.7 673.0,2015.9C674.1,2007.0 675.1,1995.4 676.4,1992.6C677.6,1989.8 679.0,1993.7 680.3,1999.3C681.7,2004.8 683.4,2020.6 684.7,2025.9C685.9,2031.1 686.7,2030.3 688.0,2030.8C689.3,2031.4 690.9,2032.8 692.3,2029.2C693.7,2025.6 694.8,2018.1 696.3,2009.2C697.8,2000.4 699.6,1987.6 701.3,1976.0C703.0,1964.3 704.6,1951.0 706.3,1939.4C707.9,1927.8 709.6,1913.6 711.3,1906.2C712.9,1898.7 714.8,1896.7 716.3,1894.5C717.7,1892.3 718.9,1892.0 720.2,1892.9C721.6,1893.7 723.0,1896.5 724.6,1899.5C726.1,1902.5 727.9,1908.4 729.6,1911.1C731.2,1913.9 732.6,1915.8 734.5,1916.1C736.5,1916.4 739.0,1914.2 741.2,1912.8C743.4,1911.4 745.6,1910.6 747.8,1907.8C750.1,1905.0 752.3,1901.4 754.5,1896.2C756.7,1890.9 759.2,1884.0 761.1,1876.2C763.1,1868.5 764.5,1860.7 766.1,1849.6C767.8,1838.5 769.7,1823.6 771.1,1809.7C772.5,1795.9 773.3,1782.0 774.4,1766.5C775.5,1751.0 776.4,1736.0 777.8,1716.6C779.1,1697.2 781.3,1669.4 782.5,1650.0C783.8,1630.6 784.1,1618.6 785.0,1600.1C786.0,1581.6 787.4,1555.1 788.3,1539.3C789.1,1523.4 789.6,1513.4 790.0,1504.8C790.4,1496.3 790.4,1489.5 790.8,1487.9C791.2,1486.2 791.8,1490.9 792.5,1494.9C793.2,1498.9 794.1,1504.4 795.0,1511.8C795.9,1519.2 797.0,1527.9 798.0,1539.3C799.0,1550.6 800.1,1565.2 801.0,1580.1C801.9,1595.1 802.5,1610.9 803.5,1629.0C804.5,1647.1 806.3,1677.0 807.0,1688.9C807.7,1700.7 807.0,1690.9 807.7,1700.0C808.4,1709.1 809.7,1727.2 811.0,1743.2C812.3,1759.3 814.0,1780.9 815.3,1796.4C816.7,1811.9 817.8,1824.7 819.3,1836.3C820.8,1848.0 822.7,1858.5 824.3,1866.3C826.0,1874.0 827.5,1878.9 829.3,1882.9C831.1,1886.9 833.1,1889.7 835.3,1890.2C837.5,1890.6 840.3,1887.3 842.6,1885.5C844.9,1883.8 846.8,1881.9 849.3,1879.6C851.7,1877.2 855.3,1875.1 857.6,1871.2C859.8,1867.4 860.9,1862.1 862.6,1856.3C864.2,1850.5 865.9,1843.3 867.5,1836.3C869.2,1829.4 870.9,1819.4 872.5,1814.7C874.2,1810.0 875.9,1808.1 877.5,1808.1C879.2,1808.1 880.8,1810.6 882.5,1814.7C884.2,1818.9 885.8,1827.2 887.5,1833.0C889.2,1838.8 890.8,1845.9 892.5,1849.6C894.1,1853.4 895.8,1855.3 897.5,1855.6C899.1,1855.9 900.8,1855.1 902.5,1851.3C904.1,1847.5 905.8,1841.6 907.4,1833.0C909.1,1824.4 910.8,1811.9 912.4,1799.8C914.1,1787.6 915.8,1772.6 917.4,1759.9C919.1,1747.1 920.9,1734.9 922.4,1723.3C923.9,1711.7 925.3,1696.7 926.7,1690.4C928.1,1684.1 929.3,1685.2 930.7,1685.4C932.0,1685.6 933.4,1685.6 934.7,1691.4C935.9,1697.1 936.8,1710.2 938.2,1720.0C939.7,1729.7 941.3,1739.9 943.2,1749.9C945.2,1759.9 947.7,1773.2 949.9,1779.8C952.1,1786.5 954.3,1787.8 956.5,1789.8C958.7,1791.7 961.0,1791.7 963.2,1791.4C965.4,1791.2 967.6,1790.3 969.8,1788.1C972.0,1785.9 974.5,1783.4 976.5,1778.1C978.4,1772.9 979.8,1764.6 981.5,1756.5C983.1,1748.5 985.0,1736.5 986.5,1729.9C987.9,1723.4 989.1,1719.2 990.4,1717.3C991.8,1715.4 993.3,1715.6 994.8,1718.3C996.2,1720.9 997.7,1726.9 999.1,1733.3C1000.5,1739.6 1001.6,1747.7 1003.1,1756.5C1004.6,1765.4 1006.4,1777.6 1008.1,1786.5C1009.7,1795.3 1011.4,1801.4 1013.1,1809.7C1014.7,1818.0 1016.4,1826.9 1018.0,1836.3C1019.7,1845.7 1021.4,1855.2 1023.0,1866.3C1024.7,1877.3 1026.4,1892.9 1028.0,1902.8C1029.7,1912.8 1031.3,1920.3 1033.0,1926.1C1034.7,1931.9 1036.3,1935.2 1038.0,1937.7C1039.7,1940.2 1041.3,1939.7 1043.0,1941.1C1044.6,1942.4 1046.3,1942.4 1048.0,1946.1C1049.6,1949.7 1051.3,1955.5 1053.0,1962.7C1054.6,1969.9 1056.3,1979.9 1057.9,1989.3C1059.6,1998.7 1061.4,2011.4 1062.9,2019.2C1064.5,2027.0 1065.9,2032.6 1067.2,2035.8C1068.6,2039.0 1069.9,2039.6 1071.2,2038.5C1072.6,2037.4 1074.2,2034.6 1075.6,2029.2C1076.9,2023.7 1078.1,2015.3 1079.6,2005.9C1081.0,1996.5 1082.9,1982.1 1084.5,1972.7C1086.2,1963.2 1087.6,1955.5 1089.5,1949.4C1091.5,1943.3 1094.0,1939.4 1096.2,1936.1C1098.4,1932.8 1100.1,1931.1 1102.8,1929.4C1105.6,1927.8 1109.8,1928.0 1112.8,1926.1C1115.8,1924.2 1118.6,1920.0 1121.1,1917.8C1123.6,1915.6 1125.8,1913.6 1127.8,1912.8C1129.7,1912.0 1130.8,1912.0 1132.8,1912.8C1134.7,1913.6 1136.9,1916.2 1139.4,1917.8C1141.9,1919.3 1144.7,1921.4 1147.7,1922.1C1150.8,1922.8 1154.1,1922.8 1157.7,1922.1C1161.3,1921.4 1165.7,1919.6 1169.3,1917.8C1172.9,1916.0 1176.0,1914.2 1179.3,1911.1C1182.6,1908.1 1186.2,1903.1 1189.3,1899.5C1192.3,1895.9 1195.1,1892.0 1197.6,1889.5C1200.1,1887.0 1202.2,1885.8 1204.2,1884.5C1206.3,1883.3 1208.1,1881.9 1209.9,1882.2C1211.7,1882.5 1213.4,1884.2 1215.2,1886.2C1217.0,1888.3 1218.8,1892.4 1220.9,1894.5C1222.9,1896.6 1225.3,1898.4 1227.5,1898.8C1229.7,1899.2 1232.2,1897.3 1234.2,1896.8C1236.1,1896.4 1237.5,1895.2 1239.2,1896.2C1240.8,1897.2 1242.5,1897.8 1244.1,1902.8C1245.8,1907.8 1247.5,1917.8 1249.1,1926.1C1250.8,1934.4 1252.5,1944.9 1254.1,1952.7C1255.8,1960.5 1257.6,1966.6 1259.1,1972.7C1260.6,1978.7 1262.0,1982.5 1263.1,1989.3C1264.2,1996.0 1264.7,2004.1 1265.8,2013.1C1267.0,2022.0 1268.5,2032.4 1269.8,2043.0C1271.2,2053.5 1272.6,2064.6 1273.8,2076.2C1275.0,2087.9 1276.1,2101.7 1277.1,2112.8C1278.1,2123.9 1278.9,2136.2 1279.8,2142.7C1280.7,2149.3 1281.5,2151.5 1282.5,2152.0C1283.5,2152.6 1284.8,2152.0 1285.8,2146.1C1286.7,2140.1 1287.3,2128.3 1288.1,2116.1C1288.9,2103.9 1289.6,2087.9 1290.4,2072.9C1291.3,2057.9 1292.2,2044.1 1293.1,2026.4C1294.0,2008.6 1295.2,1983.2 1295.8,1966.5C1296.3,1949.8 1295.9,1941.7 1296.4,1926.1C1297.0,1910.5 1298.1,1887.9 1299.1,1872.9C1300.1,1857.9 1301.2,1843.8 1302.4,1836.3C1303.6,1828.8 1305.2,1828.8 1306.4,1828.0C1307.6,1827.2 1308.6,1827.2 1309.7,1831.3C1310.8,1835.5 1311.8,1842.7 1313.1,1853.0C1314.3,1863.2 1315.7,1879.6 1317.0,1892.9C1318.4,1906.2 1319.9,1921.1 1321.4,1932.8C1322.8,1944.4 1324.3,1956.0 1325.7,1962.7C1327.1,1969.3 1328.2,1971.8 1329.7,1972.7C1331.2,1973.5 1333.3,1973.2 1334.7,1967.7C1336.0,1962.1 1336.9,1951.9 1338.0,1939.4C1339.1,1926.9 1340.2,1908.9 1341.3,1892.9C1342.4,1876.8 1343.5,1857.9 1344.6,1843.0C1345.7,1828.0 1346.7,1814.4 1348.0,1803.1C1349.2,1791.7 1350.7,1781.2 1352.0,1774.8C1353.2,1768.4 1354.3,1764.8 1355.6,1764.8C1356.9,1764.8 1358.4,1768.4 1359.6,1774.8C1360.8,1781.2 1361.8,1792.3 1362.9,1803.1C1364.0,1813.9 1365.1,1827.5 1366.3,1839.7C1367.4,1851.8 1368.5,1866.3 1369.6,1876.2C1370.7,1886.2 1371.7,1894.1 1372.9,1899.5C1374.1,1904.9 1375.3,1908.3 1376.9,1908.8C1378.4,1909.4 1380.1,1905.5 1382.2,1902.8C1384.3,1900.2 1386.6,1895.6 1389.5,1892.9C1392.4,1890.1 1396.5,1889.0 1399.5,1886.2C1402.5,1883.4 1405.3,1881.2 1407.8,1876.2C1410.3,1871.2 1412.5,1865.1 1414.5,1856.3C1416.4,1847.4 1418.0,1835.2 1419.5,1823.0C1420.9,1810.8 1422.2,1797.0 1423.4,1783.1C1424.7,1769.3 1425.8,1753.9 1426.8,1739.9C1427.7,1725.9 1428.2,1714.8 1429.3,1698.9C1430.4,1682.9 1432.0,1658.1 1433.3,1644.0C1434.5,1629.9 1435.8,1619.7 1436.8,1614.1C1437.8,1608.4 1438.2,1609.2 1439.3,1610.1C1440.4,1610.9 1442.0,1612.6 1443.3,1619.1C1444.5,1625.5 1445.6,1638.2 1446.8,1649.0C1447.9,1659.8 1449.0,1673.9 1450.2,1683.9C1451.5,1693.9 1453.0,1704.3 1454.2,1708.8C1455.5,1713.4 1456.5,1712.2 1457.7,1711.3C1459.0,1710.5 1460.2,1709.2 1461.7,1703.8C1463.2,1698.4 1465.2,1685.1 1466.7,1678.9C1468.2,1672.7 1469.3,1667.3 1470.7,1666.4C1472.1,1665.6 1473.9,1668.5 1475.2,1673.9C1476.5,1679.3 1477.7,1686.2 1478.7,1698.9C1479.6,1711.5 1480.0,1730.3 1481.0,1749.9C1481.9,1769.5 1483.2,1797.0 1484.3,1816.4C1485.4,1835.8 1486.5,1852.4 1487.6,1866.3C1488.7,1880.1 1489.8,1890.9 1490.9,1899.5C1492.0,1908.1 1492.9,1914.2 1494.3,1917.8C1495.6,1921.4 1497.6,1922.2 1499.3,1921.1C1500.9,1920.0 1502.6,1914.5 1504.2,1911.1C1505.9,1907.8 1507.6,1902.8 1509.2,1901.2C1510.9,1899.5 1512.3,1900.4 1514.2,1901.2C1516.2,1901.9 1518.6,1904.4 1520.9,1905.5C1523.1,1906.6 1525.3,1908.3 1527.5,1907.8C1529.7,1907.4 1531.7,1905.3 1534.2,1902.8C1536.7,1900.3 1539.7,1895.9 1542.5,1892.9C1545.2,1889.8 1548.6,1885.9 1550.8,1884.5C1553.0,1883.2 1554.1,1883.2 1555.8,1884.5C1557.4,1885.9 1558.8,1889.2 1560.8,1892.9C1562.7,1896.5 1564.9,1902.3 1567.4,1906.2C1569.9,1910.0 1573.2,1912.8 1575.7,1916.1C1578.2,1919.5 1580.2,1923.1 1582.4,1926.1C1584.6,1929.1 1587.1,1932.9 1589.0,1934.4C1591.0,1936.0 1592.2,1937.9 1594.0,1935.4C1595.8,1932.9 1598.3,1923.2 1600.0,1919.5C1601.7,1915.7 1602.8,1915.6 1604.4,1912.8C1605.9,1910.0 1607.7,1904.8 1609.4,1902.8C1611.0,1900.9 1612.7,1900.6 1614.4,1901.2C1616.0,1901.7 1617.4,1903.9 1619.3,1906.2C1621.3,1908.4 1623.8,1912.1 1626.0,1914.5C1628.2,1916.8 1630.1,1919.3 1632.6,1920.1C1635.1,1920.9 1638.2,1919.8 1641.0,1919.5C1643.7,1919.1 1646.5,1917.9 1649.3,1917.8C1652.0,1917.7 1654.8,1918.2 1657.6,1918.8C1660.3,1919.3 1663.1,1920.6 1665.9,1921.1C1668.7,1921.7 1671.2,1921.7 1674.2,1922.1C1677.2,1922.5 1681.3,1922.9 1684.2,1923.4C1687.1,1923.9 1689.6,1924.7 1691.5,1925.1C1693.4,1925.5 1694.8,1925.9 1695.5,1926.0" fill="none" stroke="#0000ff" stroke-width="8.6" stroke-linejoin="round" stroke-linecap="butt" clip-path="url(#cb)"/>
<line x1="213.0" y1="2286.5" x2="213.0" y2="2295.8" stroke="#000" stroke-width="4.5" stroke-linecap="round"/>
<line x1="459.4" y1="2286.5" x2="459.4" y2="2295.8" stroke="#000" stroke-width="4.5" stroke-linecap="round"/>
<line x1="705.8" y1="2286.5" x2="705.8" y2="2295.8" stroke="#000" stroke-width="4.5" stroke-linecap="round"/>
<line x1="952.2" y1="2286.5" x2="952.2" y2="2295.8" stroke="#000" stroke-width="4.5" stroke-linecap="round"/>
<line x1="1198.7" y1="2286.5" x2="1198.7" y2="2295.8" stroke="#000" stroke-width="4.5" stroke-linecap="round"/>
<line x1="1445.1" y1="2286.5" x2="1445.1" y2="2295.8" stroke="#000" stroke-width="4.5" stroke-linecap="round"/>
<line x1="1691.5" y1="2286.5" x2="1691.5" y2="2295.8" stroke="#000" stroke-width="4.5" stroke-linecap="round"/>
<line x1="336.2" y1="2286.5" x2="336.2" y2="2305.8" stroke="#000" stroke-width="4.5" stroke-linecap="round"/>
<text transform="translate(336.2,2353.5) scale(1.000,1.075)" font-family='"Liberation Serif", "DejaVu Serif", serif' font-size="46.0" text-anchor="middle">1500</text>
<line x1="582.6" y1="2286.5" x2="582.6" y2="2305.8" stroke="#000" stroke-width="4.5" stroke-linecap="round"/>
<text transform="translate(582.6,2353.5) scale(1.000,1.075)" font-family='"Liberation Serif", "DejaVu Serif", serif' font-size="46.0" text-anchor="middle">1400</text>
<line x1="829.0" y1="2286.5" x2="829.0" y2="2305.8" stroke="#000" stroke-width="4.5" stroke-linecap="round"/>
<text transform="translate(829.0,2353.5) scale(1.000,1.075)" font-family='"Liberation Serif", "DejaVu Serif", serif' font-size="46.0" text-anchor="middle">1300</text>
<line x1="1075.5" y1="2286.5" x2="1075.5" y2="2305.8" stroke="#000" stroke-width="4.5" stroke-linecap="round"/>
<text transform="translate(1075.5,2353.5) scale(1.000,1.075)" font-family='"Liberation Serif", "DejaVu Serif", serif' font-size="46.0" text-anchor="middle">1200</text>
<line x1="1321.9" y1="2286.5" x2="1321.9" y2="2305.8" stroke="#000" stroke-width="4.5" stroke-linecap="round"/>
<text transform="translate(1321.9,2353.5) scale(1.000,1.075)" font-family='"Liberation Serif", "DejaVu Serif", serif' font-size="46.0" text-anchor="middle">1100</text>
<line x1="1568.3" y1="2286.5" x2="1568.3" y2="2305.8" stroke="#000" stroke-width="4.5" stroke-linecap="round"/>
<text transform="translate(1568.3,2353.5) scale(1.000,1.075)" font-family='"Liberation Serif", "DejaVu Serif", serif' font-size="46.0" text-anchor="middle">1000</text>
<line x1="213.0" y1="2071.2" x2="203.2" y2="2071.2" stroke="#000" stroke-width="4.5" stroke-linecap="round"/>
<line x1="213.0" y1="1763.6" x2="203.2" y2="1763.6" stroke="#000" stroke-width="4.5" stroke-linecap="round"/>
<line x1="213.0" y1="1456.1" x2="203.2" y2="1456.1" stroke="#000" stroke-width="4.5" stroke-linecap="round"/>
<line x1="213.0" y1="2225.0" x2="194.2" y2="2225.0" stroke="#000" stroke-width="4.5" stroke-linecap="round"/>
<text transform="translate(179.5,2237.5) scale(1.000,1.075)" font-family='"Liberation Serif", "DejaVu Serif", serif' font-size="46.0" text-anchor="end">−0.1</text>
<line x1="213.0" y1="1917.4" x2="194.2" y2="1917.4" stroke="#000" stroke-width="4.5" stroke-linecap="round"/>
<text transform="translate(179.5,1929.9) scale(1.000,1.075)" font-family='"Liberation Serif", "DejaVu Serif", serif' font-size="46.0" text-anchor="end">0.0</text>
<line x1="213.0" y1="1609.9" x2="194.2" y2="1609.9" stroke="#000" stroke-width="4.5" stroke-linecap="round"/>
<text transform="translate(179.5,1622.4) scale(1.000,1.075)" font-family='"Liberation Serif", "DejaVu Serif", serif' font-size="46.0" text-anchor="end">0.1</text>
<line x1="213.0" y1="1302.3" x2="194.2" y2="1302.3" stroke="#000" stroke-width="4.5" stroke-linecap="round"/>
<text transform="translate(179.5,1314.8) scale(1.000,1.075)" font-family='"Liberation Serif", "DejaVu Serif", serif' font-size="46.0" text-anchor="end">0.2</text>
<text transform="translate(699.5,2416.8) scale(1.000,1.035)" font-family='"Liberation Sans", "DejaVu Sans", sans-serif' font-size="60.0" text-anchor="start" stroke="#000" stroke-width="0.5">wavenumber (cm<tspan font-size="44" dy="-32" dx="2">−1</tspan><tspan dy="32" dx="1">)</tspan></text>
<text stroke="#000" stroke-width="0.15" transform="translate(104.7,1782.8) rotate(-90) scale(0.998,1.03)" font-family='"Liberation Sans", "DejaVu Sans", sans-serif' font-size="60.0" text-anchor="middle"><tspan font-family='"Liberation Serif", "DejaVu Serif", serif'>Δε</tspan> (M<tspan font-size="37.5" dy="-26.5">−1</tspan><tspan dy="26.5">cm</tspan><tspan font-size="37.5" dy="-26.5">−1</tspan><tspan dy="26.5">)</tspan></text>
<text transform="translate(60.0,1240.4) scale(0.990,1.000)" font-family='"Liberation Sans", "DejaVu Sans", sans-serif' font-size="60.0" text-anchor="start">(b)</text>
<line x1="695.2" y1="1358.6" x2="744.2" y2="1358.6" stroke="#ff0000" stroke-width="5.4"/>
<path d="M787.2,1358.6 L740.2,1372.0 L744.2,1358.6 L740.2,1345.2 Z" fill="#ff0000"/>
<text x="795.6" y="1373.5" font-family='"Liberation Sans", "DejaVu Sans", sans-serif' font-size="52.0" fill="#ff0000" stroke="#ff0000" stroke-width="0.5" textLength="342.5" lengthAdjust="spacing" text-anchor="start">(a<tspan font-style="italic">S</tspan>,3<tspan font-style="italic">S</tspan>,3'<tspan font-style="italic">S</tspan>)-<tspan font-weight="bold">28</tspan></text>
<line x1="793.2" y1="1507.0" x2="816.6" y2="1472.3" stroke="#0000ff" stroke-width="5.4"/>
<path d="M840.6,1436.6 L825.5,1483.1 L816.6,1472.3 L803.2,1468.1 Z" fill="#0000ff"/>
<text x="804.2" y="1428.3" font-family='"Liberation Sans", "DejaVu Sans", sans-serif' font-size="52.0" fill="#0000ff" stroke="#0000ff" stroke-width="0.5" textLength="342.5" lengthAdjust="spacing" text-anchor="start">(a<tspan font-style="italic">R</tspan>,3<tspan font-style="italic">S</tspan>,3'<tspan font-style="italic">S</tspan>)-<tspan font-weight="bold">28</tspan></text>
</g>
<g id="plot-c">
<line x1="213.0" y1="3122.7" x2="1691.5" y2="3122.7" stroke="#000" stroke-width="5"/>
<rect x="212.50" y="2443.50" width="1479.00" height="1132.00" fill="none" stroke="#000" stroke-width="5.0"/>
<path d="M210.8,2607.6C211.2,2607.6 211.5,2607.7 213.3,2608.1C215.1,2608.4 218.8,2607.5 221.6,2609.7C224.4,2611.9 227.2,2616.1 229.9,2621.4C232.7,2626.7 235.5,2634.5 238.1,2641.5C240.8,2648.6 243.5,2655.8 245.9,2663.7C248.4,2671.5 250.8,2679.8 253.0,2688.7C255.2,2697.5 257.3,2707.0 259.2,2716.7C261.2,2726.5 263.0,2736.8 264.7,2747.3C266.5,2757.8 268.1,2768.6 269.8,2779.5C271.5,2790.4 273.2,2801.6 274.8,2812.6C276.5,2823.5 278.1,2834.7 279.8,2845.2C281.5,2855.8 283.1,2866.1 284.7,2876.0C286.3,2885.9 287.9,2895.2 289.4,2904.8C290.9,2914.4 292.3,2923.8 293.7,2933.5C295.1,2943.2 296.4,2953.1 297.8,2963.1C299.1,2973.0 300.4,2983.0 301.7,2993.2C303.1,3003.4 304.4,3013.6 305.7,3024.1C307.1,3034.7 308.4,3045.5 309.7,3056.4C311.1,3067.2 312.5,3078.4 313.8,3089.2C315.2,3100.0 316.6,3110.8 318.0,3121.4C319.3,3132.0 320.7,3142.0 322.1,3152.6C323.5,3163.1 324.9,3173.3 326.3,3184.6C327.7,3195.9 329.1,3208.1 330.6,3220.4C332.0,3232.7 333.5,3246.2 335.0,3258.5C336.5,3270.9 338.0,3283.0 339.4,3294.3C340.8,3305.6 342.2,3316.0 343.6,3326.4C345.1,3336.7 346.3,3346.3 348.0,3356.3C349.6,3366.3 351.7,3376.2 353.6,3386.2C355.6,3396.2 357.5,3406.2 359.6,3416.1C361.7,3426.1 363.9,3436.9 366.3,3446.1C368.6,3455.2 370.8,3464.3 373.6,3471.0C376.3,3477.6 379.7,3480.7 382.9,3486.0C386.1,3491.2 389.6,3497.3 392.9,3502.6C396.1,3507.8 398.6,3515.2 402.2,3517.5C405.8,3519.9 411.0,3518.5 414.5,3516.9C417.9,3515.2 419.7,3511.3 422.8,3507.6C425.8,3503.8 429.4,3499.0 432.8,3494.3C436.1,3489.6 439.1,3483.5 442.7,3479.3C446.3,3475.1 450.5,3473.5 454.4,3469.3C458.2,3465.2 462.4,3460.2 466.0,3454.4C469.6,3448.5 472.7,3441.3 476.0,3434.4C479.3,3427.5 482.6,3420.3 486.0,3412.8C489.3,3405.3 492.6,3397.0 495.9,3389.5C499.3,3382.0 502.6,3375.1 505.9,3367.9C509.2,3360.7 512.6,3353.5 515.9,3346.3C519.2,3339.1 522.5,3332.2 525.9,3324.7C529.2,3317.2 532.8,3309.5 535.8,3301.4C538.8,3293.3 541.3,3284.5 544.0,3276.0C546.6,3267.6 549.2,3259.1 551.7,3250.6C554.2,3242.1 556.6,3233.7 559.1,3225.1C561.6,3216.6 564.1,3207.9 566.8,3199.2C569.4,3190.5 572.2,3181.6 574.9,3173.0C577.7,3164.4 580.5,3155.7 583.3,3147.5C586.0,3139.3 588.8,3131.4 591.7,3123.7C594.5,3116.1 597.5,3108.7 600.5,3101.6C603.5,3094.5 606.7,3087.6 610.0,3081.1C613.2,3074.7 616.5,3068.6 619.8,3062.8C623.1,3057.1 626.2,3051.1 629.8,3046.4C633.4,3041.7 637.3,3037.8 641.4,3034.8C645.6,3031.7 650.3,3029.9 654.7,3028.1C659.2,3026.4 663.3,3024.1 668.0,3024.1C672.7,3024.1 678.3,3027.9 683.0,3028.1C687.7,3028.4 691.9,3026.8 696.3,3025.8C700.7,3024.9 705.2,3023.2 709.6,3022.5C714.0,3021.8 718.5,3021.9 722.9,3021.5C727.3,3021.0 731.8,3020.4 736.2,3019.8C740.6,3019.3 745.1,3019.3 749.5,3018.2C753.9,3017.1 758.4,3014.2 762.8,3013.2C767.2,3012.2 771.7,3012.3 776.1,3012.2C780.5,3012.1 785.0,3012.1 789.4,3012.5C793.8,3013.0 798.3,3014.2 802.7,3014.8C807.1,3015.5 811.6,3015.4 816.0,3016.5C820.4,3017.6 825.1,3019.5 829.3,3021.5C833.5,3023.4 837.1,3025.8 840.9,3028.1C844.8,3030.5 848.4,3033.6 852.6,3035.8C856.7,3038.0 861.4,3039.4 865.9,3041.4C870.3,3043.5 874.7,3045.6 879.2,3048.1C883.6,3050.6 888.3,3053.5 892.5,3056.4C896.6,3059.3 900.2,3062.7 904.1,3065.7C908.0,3068.8 911.6,3072.1 915.8,3074.7C919.9,3077.3 924.6,3079.4 929.1,3081.3C933.5,3083.3 938.3,3085.1 942.4,3086.3C946.4,3087.6 949.2,3087.7 953.2,3088.9C957.2,3090.1 962.1,3092.5 966.5,3093.5C970.9,3094.6 975.4,3094.7 979.8,3095.2C984.2,3095.6 988.7,3096.3 993.1,3096.2C997.5,3096.1 1002.0,3095.3 1006.4,3094.5C1010.8,3093.7 1015.3,3092.6 1019.7,3091.2C1024.1,3089.8 1028.6,3087.9 1033.0,3086.2C1037.4,3084.5 1041.9,3083.4 1046.3,3081.2C1050.7,3079.0 1055.2,3075.0 1059.6,3072.9C1064.0,3070.9 1068.5,3070.1 1072.9,3068.9C1077.3,3067.7 1081.8,3066.5 1086.2,3065.6C1090.6,3064.7 1095.1,3064.7 1099.5,3063.6C1103.9,3062.5 1108.4,3060.8 1112.8,3058.9C1117.2,3057.1 1121.7,3054.5 1126.1,3052.3C1130.5,3050.1 1135.0,3047.5 1139.4,3045.6C1143.8,3043.8 1148.3,3043.0 1152.7,3041.3C1157.1,3039.7 1161.6,3036.9 1166.0,3035.7C1170.4,3034.4 1174.9,3034.7 1179.3,3034.0C1183.7,3033.3 1188.2,3031.9 1192.6,3031.3C1197.0,3030.8 1201.5,3030.8 1205.9,3030.7C1210.3,3030.6 1214.8,3030.6 1219.2,3030.7C1223.6,3030.8 1228.1,3031.1 1232.5,3031.3C1236.9,3031.6 1241.4,3031.2 1245.8,3032.3C1250.2,3033.4 1254.7,3036.1 1259.1,3038.0C1263.5,3039.9 1268.0,3041.1 1272.4,3043.6C1276.8,3046.1 1281.1,3050.3 1285.7,3053.0C1290.3,3055.6 1295.4,3056.7 1300.0,3059.6C1304.6,3062.5 1308.9,3067.5 1313.3,3070.2C1317.7,3073.0 1322.2,3073.8 1326.6,3076.2C1331.0,3078.6 1335.5,3081.9 1339.9,3084.5C1344.3,3087.2 1348.8,3089.6 1353.2,3092.2C1357.6,3094.8 1362.1,3097.4 1366.5,3100.2C1370.9,3102.9 1375.4,3106.6 1379.8,3108.8C1384.2,3111.0 1388.7,3112.2 1393.1,3113.5C1397.5,3114.7 1402.0,3115.4 1406.4,3116.1C1410.8,3116.8 1415.3,3116.8 1419.7,3117.8C1424.1,3118.8 1428.6,3121.0 1433.0,3122.1C1437.4,3123.2 1441.9,3123.9 1446.3,3124.4C1450.7,3125.0 1455.2,3125.2 1459.6,3125.4C1464.0,3125.7 1468.5,3125.9 1472.9,3126.1C1477.3,3126.3 1481.8,3126.8 1486.2,3126.8C1490.6,3126.8 1495.1,3126.0 1499.5,3126.1C1503.9,3126.2 1508.4,3126.8 1512.8,3127.1C1517.2,3127.4 1521.7,3127.7 1526.1,3128.1C1530.5,3128.5 1535.0,3129.0 1539.4,3129.4C1543.8,3129.8 1548.3,3130.1 1552.7,3130.4C1557.1,3130.7 1561.6,3131.1 1566.0,3131.1C1570.4,3131.0 1574.9,3130.5 1579.3,3130.1C1583.7,3129.7 1588.2,3129.3 1592.6,3128.8C1597.0,3128.3 1601.5,3127.7 1605.9,3127.1C1610.3,3126.5 1614.8,3125.9 1619.2,3125.4C1623.6,3125.0 1627.5,3124.8 1632.5,3124.4C1637.5,3124.1 1643.6,3123.6 1649.1,3123.4C1654.7,3123.3 1660.2,3123.6 1665.8,3123.8C1671.3,3123.9 1677.9,3124.3 1682.4,3124.4C1686.8,3124.6 1690.0,3124.7 1692.4,3124.8C1694.7,3124.8 1695.7,3124.9 1696.4,3124.9" fill="none" stroke="#0000ff" stroke-width="9.4" stroke-linejoin="round" stroke-linecap="butt" clip-path="url(#cc)"/>
<path d="M210.8,2575.6C211.2,2576.6 212.1,2578.6 213.3,2581.5C214.5,2584.4 216.3,2588.7 218.3,2593.1C220.2,2597.5 222.4,2603.6 224.9,2608.1C227.4,2612.5 230.2,2616.1 233.3,2619.7C236.3,2623.3 239.6,2626.6 243.2,2629.7C246.8,2632.7 251.0,2635.3 254.9,2638.0C258.7,2640.6 262.3,2643.7 266.5,2645.6C270.7,2647.6 275.4,2649.5 279.8,2649.6C284.2,2649.7 289.8,2646.0 293.1,2646.3C296.4,2646.6 297.5,2649.7 299.8,2651.3C302.0,2652.8 303.1,2655.3 306.4,2655.6C309.7,2655.9 315.3,2654.9 319.7,2653.0C324.1,2651.0 328.6,2645.9 333.0,2643.6C337.4,2641.4 341.9,2641.5 346.3,2639.7C350.7,2637.8 355.2,2634.3 359.6,2632.3C364.0,2630.4 369.3,2627.6 372.9,2628.0C376.5,2628.4 378.4,2632.2 381.2,2634.7C384.0,2637.2 387.3,2639.4 389.5,2643.0C391.7,2646.6 392.6,2651.6 394.5,2656.3C396.5,2661.0 397.8,2666.3 401.2,2671.2C404.5,2676.2 410.9,2680.9 414.5,2686.2C418.1,2691.5 419.7,2696.5 422.8,2702.8C425.8,2709.2 429.4,2717.1 432.8,2724.4C436.1,2731.7 439.4,2739.1 442.6,2746.7C445.8,2754.2 449.0,2761.8 452.1,2769.6C455.1,2777.5 458.0,2785.5 460.9,2793.6C463.8,2801.8 466.5,2809.8 469.3,2818.4C472.2,2826.9 474.9,2835.2 477.9,2844.8C480.8,2854.4 483.9,2864.9 486.9,2875.8C489.9,2886.7 493.1,2899.0 495.8,2910.2C498.5,2921.4 501.0,2932.5 503.3,2943.0C505.6,2953.6 507.5,2963.3 509.6,2973.2C511.6,2983.2 513.5,2993.0 515.4,3002.7C517.4,3012.5 519.3,3022.2 521.3,3031.6C523.3,3041.1 525.2,3050.2 527.2,3059.3C529.2,3068.3 531.2,3077.2 533.3,3086.1C535.3,3095.0 537.4,3103.8 539.5,3112.7C541.6,3121.5 543.8,3130.4 545.9,3139.1C548.1,3147.7 550.3,3156.4 552.5,3164.6C554.6,3172.8 556.9,3180.8 558.9,3188.2C561.0,3195.5 563.0,3202.0 565.0,3208.8C566.9,3215.5 568.8,3221.4 570.7,3228.4C572.7,3235.4 574.7,3242.8 576.8,3250.9C578.8,3258.9 580.8,3267.8 583.3,3276.5C585.7,3285.2 588.8,3294.8 591.6,3303.1C594.3,3311.4 597.1,3319.1 599.9,3326.4C602.6,3333.6 605.1,3340.2 608.2,3346.3C611.2,3352.4 614.6,3358.2 618.2,3362.9C621.8,3367.6 625.6,3371.5 629.8,3374.6C634.0,3377.6 638.7,3379.6 643.1,3381.2C647.5,3382.9 652.0,3384.5 656.4,3384.5C660.8,3384.5 665.3,3382.3 669.7,3381.2C674.1,3380.1 678.6,3379.4 683.0,3377.9C687.4,3376.4 691.9,3374.2 696.3,3372.2C700.7,3370.3 705.2,3368.5 709.6,3366.3C714.0,3364.0 718.5,3360.7 722.9,3358.9C727.3,3357.2 731.8,3356.7 736.2,3355.6C740.6,3354.5 745.1,3353.4 749.5,3352.3C753.9,3351.2 758.4,3350.4 762.8,3349.0C767.2,3347.5 771.7,3345.5 776.1,3343.6C780.5,3341.8 785.0,3340.4 789.4,3338.0C793.8,3335.6 798.3,3332.4 802.7,3329.0C807.1,3325.6 811.6,3321.5 816.0,3317.4C820.4,3313.2 824.9,3308.5 829.3,3304.1C833.7,3299.6 838.2,3295.6 842.6,3290.8C847.0,3285.9 851.5,3280.1 855.9,3274.8C860.3,3269.5 864.8,3264.8 869.2,3258.9C873.6,3252.9 878.1,3245.0 882.5,3239.3C886.9,3233.5 891.4,3229.0 895.8,3224.3C900.2,3219.6 904.7,3215.2 909.1,3211.0C913.5,3206.9 918.0,3203.0 922.4,3199.4C926.8,3195.8 930.6,3193.1 935.7,3189.4C940.8,3185.7 948.1,3179.9 953.2,3177.0C958.3,3174.1 962.1,3173.5 966.5,3172.0C970.9,3170.4 975.4,3168.8 979.8,3167.7C984.2,3166.6 988.7,3165.9 993.1,3165.3C997.5,3164.8 1002.0,3164.8 1006.4,3164.3C1010.8,3163.9 1015.3,3163.2 1019.7,3162.7C1024.1,3162.1 1028.6,3161.6 1033.0,3161.0C1037.4,3160.5 1041.9,3159.9 1046.3,3159.4C1050.7,3158.8 1055.2,3158.1 1059.6,3157.7C1064.0,3157.3 1068.5,3157.2 1072.9,3157.0C1077.3,3156.9 1081.8,3156.6 1086.2,3156.7C1090.6,3156.8 1095.1,3157.0 1099.5,3157.7C1103.9,3158.4 1108.4,3160.3 1112.8,3161.0C1117.2,3161.7 1121.7,3161.7 1126.1,3162.0C1130.5,3162.3 1135.0,3162.4 1139.4,3162.7C1143.8,3163.0 1148.3,3163.2 1152.7,3163.7C1157.1,3164.1 1161.6,3164.7 1166.0,3165.3C1170.4,3166.0 1174.9,3167.1 1179.3,3167.7C1183.7,3168.2 1188.2,3168.3 1192.6,3168.7C1197.0,3169.0 1201.5,3170.0 1205.9,3170.0C1210.3,3170.0 1214.8,3169.0 1219.2,3168.7C1223.6,3168.3 1228.1,3168.4 1232.5,3167.7C1236.9,3166.9 1241.4,3165.6 1245.8,3164.3C1250.2,3163.1 1254.7,3161.3 1259.1,3160.0C1263.5,3158.7 1268.0,3157.7 1272.4,3156.7C1276.8,3155.6 1281.1,3154.9 1285.7,3153.7C1290.3,3152.5 1295.4,3151.6 1300.0,3149.4C1304.6,3147.1 1308.9,3142.4 1313.3,3140.1C1317.7,3137.7 1322.2,3136.4 1326.6,3135.1C1331.0,3133.7 1335.5,3132.8 1339.9,3132.1C1344.3,3131.4 1348.8,3131.1 1353.2,3131.1C1357.6,3131.1 1362.1,3131.6 1366.5,3132.1C1370.9,3132.5 1375.4,3133.4 1379.8,3133.7C1384.2,3134.1 1388.7,3134.4 1393.1,3134.4C1397.5,3134.4 1402.0,3133.9 1406.4,3133.7C1410.8,3133.6 1415.3,3133.6 1419.7,3133.7C1424.1,3133.9 1428.6,3134.2 1433.0,3134.4C1437.4,3134.6 1441.9,3135.0 1446.3,3135.1C1450.7,3135.2 1455.2,3135.5 1459.6,3135.1C1464.0,3134.7 1468.5,3133.4 1472.9,3132.8C1477.3,3132.1 1481.8,3131.5 1486.2,3131.1C1490.6,3130.7 1495.1,3130.1 1499.5,3130.4C1503.9,3130.7 1508.4,3132.1 1512.8,3132.8C1517.2,3133.4 1521.7,3134.0 1526.1,3134.4C1530.5,3134.9 1535.0,3135.0 1539.4,3135.4C1543.8,3135.8 1548.3,3136.6 1552.7,3136.7C1557.1,3136.9 1561.6,3136.6 1566.0,3136.1C1570.4,3135.5 1574.9,3134.4 1579.3,3133.4C1583.7,3132.5 1588.2,3131.2 1592.6,3130.4C1597.0,3129.6 1601.5,3129.3 1605.9,3128.8C1610.3,3128.2 1614.8,3127.5 1619.2,3127.1C1623.6,3126.7 1627.5,3126.4 1632.5,3126.1C1637.5,3125.8 1643.6,3125.6 1649.1,3125.4C1654.7,3125.3 1660.2,3125.1 1665.8,3125.1C1671.3,3125.1 1677.9,3125.3 1682.4,3125.4C1686.8,3125.6 1690.0,3125.9 1692.4,3126.1C1694.7,3126.3 1695.7,3126.3 1696.4,3126.4" fill="none" stroke="#ff0000" stroke-width="9.4" stroke-linejoin="round" stroke-linecap="butt" clip-path="url(#cc)"/>
<path d="M210.8,2743.3C211.2,2742.4 211.6,2741.5 213.3,2737.7C215.0,2733.9 218.5,2726.3 221.0,2720.5C223.5,2714.7 225.8,2708.7 228.2,2702.8C230.5,2697.0 232.7,2690.9 235.0,2685.4C237.4,2679.8 239.7,2674.3 242.2,2669.6C244.7,2665.0 247.3,2660.7 250.0,2657.3C252.7,2653.9 255.5,2651.3 258.5,2649.4C261.5,2647.5 264.8,2646.2 268.1,2645.9C271.3,2645.7 275.0,2646.2 278.2,2647.9C281.5,2649.6 284.8,2652.6 287.8,2656.4C290.8,2660.2 293.6,2665.3 296.4,2670.8C299.3,2676.2 302.0,2682.3 304.8,2688.9C307.7,2695.5 310.6,2702.4 313.7,2710.3C316.8,2718.2 320.1,2726.8 323.4,2736.2C326.7,2745.5 330.3,2756.0 333.8,2766.5C337.3,2777.0 340.9,2788.4 344.3,2799.3C347.7,2810.1 351.2,2821.5 354.3,2831.7C357.4,2841.8 360.3,2851.7 362.7,2860.0C365.2,2868.2 367.1,2874.8 368.9,2881.2C370.7,2887.6 372.0,2892.3 373.6,2898.4C375.3,2904.4 377.0,2910.6 379.0,2917.5C381.0,2924.4 383.3,2932.2 385.6,2939.8C388.0,2947.4 390.6,2955.3 393.2,2963.1C395.9,2970.8 398.7,2978.6 401.6,2986.2C404.5,2993.8 407.6,3001.5 410.7,3008.8C413.8,3016.0 417.0,3023.1 420.3,3029.8C423.5,3036.4 426.8,3042.6 430.1,3048.6C433.4,3054.5 436.7,3060.0 440.1,3065.3C443.4,3070.6 446.7,3075.5 450.0,3080.2C453.4,3084.8 456.7,3089.1 460.0,3092.9C463.3,3096.8 466.7,3100.3 470.0,3103.3C473.3,3106.4 476.6,3109.0 480.0,3111.2C483.3,3113.4 486.6,3115.0 490.1,3116.5C493.6,3117.9 497.1,3118.9 501.0,3120.0C504.8,3121.0 508.8,3121.8 513.0,3122.7C517.1,3123.6 521.5,3124.6 525.9,3125.5C530.3,3126.4 534.7,3127.4 539.2,3128.3C543.6,3129.2 548.0,3130.1 552.5,3130.9C556.9,3131.8 561.3,3132.6 565.8,3133.5C570.2,3134.4 574.6,3135.2 579.1,3136.3C583.6,3137.5 588.1,3138.6 592.6,3140.2C597.1,3141.8 601.7,3143.7 606.3,3146.0C610.8,3148.3 615.3,3151.2 619.8,3154.2C624.2,3157.3 628.7,3160.9 633.1,3164.4C637.6,3167.9 642.0,3171.7 646.4,3175.2C650.9,3178.7 655.3,3182.2 659.7,3185.4C664.2,3188.6 668.6,3191.6 673.0,3194.2C677.5,3196.8 681.9,3199.1 686.3,3201.2C690.8,3203.2 695.2,3204.9 699.6,3206.5C704.1,3208.2 708.5,3209.6 712.9,3211.0C717.4,3212.4 721.8,3213.8 726.2,3215.1C730.7,3216.4 735.1,3217.7 739.5,3218.8C744.0,3219.9 748.4,3221.0 752.8,3221.7C757.3,3222.4 761.7,3222.8 766.1,3223.0C770.6,3223.2 775.0,3223.2 779.4,3222.9C783.9,3222.6 788.3,3222.1 792.7,3221.5C797.2,3220.8 801.6,3220.0 806.0,3219.0C810.5,3218.0 814.9,3216.8 819.3,3215.5C823.8,3214.1 828.2,3212.6 832.6,3210.8C837.1,3209.0 841.5,3206.9 845.9,3204.7C850.4,3202.4 854.8,3199.8 859.2,3197.1C863.7,3194.4 868.1,3191.5 872.5,3188.5C877.0,3185.6 881.4,3182.5 885.8,3179.5C890.3,3176.5 894.7,3173.4 899.1,3170.5C903.6,3167.6 908.0,3164.8 912.4,3162.0C916.9,3159.3 921.3,3156.6 925.8,3154.0C930.3,3151.4 934.8,3149.0 939.3,3146.4C943.8,3143.8 948.4,3141.3 952.9,3138.6C957.5,3135.9 962.0,3133.1 966.4,3130.1C970.9,3127.2 975.4,3124.0 979.8,3120.8C984.2,3117.6 988.7,3114.2 993.1,3110.8C997.5,3107.4 1002.0,3103.9 1006.4,3100.3C1010.8,3096.7 1015.3,3093.0 1019.7,3089.2C1024.1,3085.4 1028.6,3081.5 1033.0,3077.6C1037.4,3073.6 1041.9,3069.5 1046.3,3065.4C1050.7,3061.4 1055.2,3057.2 1059.6,3053.0C1064.0,3048.9 1068.5,3044.7 1072.9,3040.6C1077.3,3036.4 1081.8,3032.3 1086.2,3028.1C1090.6,3023.9 1095.1,3019.8 1099.5,3015.6C1103.9,3011.4 1108.4,3007.2 1112.8,3003.1C1117.2,2999.0 1121.7,2994.8 1126.1,2990.9C1130.5,2986.9 1135.0,2983.0 1139.4,2979.3C1143.8,2975.7 1148.3,2972.2 1152.7,2968.9C1157.1,2965.7 1161.6,2962.7 1166.0,2959.9C1170.4,2957.1 1174.9,2954.6 1179.3,2952.4C1183.7,2950.1 1188.2,2948.2 1192.6,2946.5C1197.0,2944.9 1201.5,2943.5 1205.9,2942.5C1210.3,2941.4 1214.8,2940.7 1219.2,2940.4C1223.6,2940.0 1228.1,2940.0 1232.5,2940.5C1236.9,2941.0 1241.4,2941.8 1245.8,2943.3C1250.2,2944.8 1254.7,2946.8 1259.1,2949.3C1263.5,2951.9 1268.0,2955.1 1272.5,2958.8C1276.9,2962.5 1281.5,2966.9 1286.0,2971.7C1290.6,2976.6 1295.2,2982.1 1299.7,2987.9C1304.2,2993.8 1308.8,3000.2 1313.2,3006.7C1317.7,3013.2 1322.2,3020.1 1326.6,3027.0C1331.0,3033.8 1335.5,3041.0 1339.9,3048.0C1344.3,3054.9 1348.8,3062.1 1353.2,3068.8C1357.6,3075.6 1362.1,3082.4 1366.5,3088.7C1370.9,3095.0 1375.4,3101.2 1379.8,3106.9C1384.2,3112.6 1388.7,3118.0 1393.1,3122.9C1397.5,3127.9 1402.0,3132.4 1406.4,3136.4C1410.8,3140.4 1415.3,3144.0 1419.7,3147.0C1424.1,3150.1 1428.6,3152.6 1433.0,3154.8C1437.4,3156.9 1441.9,3158.6 1446.3,3159.9C1450.7,3161.2 1455.2,3162.1 1459.6,3162.6C1464.0,3163.2 1468.5,3163.4 1472.9,3163.3C1477.3,3163.2 1481.8,3162.8 1486.2,3162.2C1490.6,3161.7 1495.1,3160.8 1499.5,3159.9C1503.9,3159.1 1508.4,3158.0 1512.8,3156.9C1517.2,3155.9 1521.7,3154.7 1526.1,3153.6C1530.5,3152.4 1535.0,3151.2 1539.4,3149.9C1543.8,3148.6 1548.3,3147.3 1552.7,3146.0C1557.1,3144.7 1561.6,3143.3 1566.0,3142.0C1570.4,3140.7 1574.9,3139.3 1579.3,3138.2C1583.7,3137.0 1588.2,3135.8 1592.6,3134.9C1597.0,3133.9 1601.4,3133.1 1605.9,3132.3C1610.4,3131.6 1614.8,3130.9 1619.4,3130.4C1624.1,3129.8 1628.8,3129.4 1633.7,3128.9C1638.7,3128.5 1644.1,3128.2 1649.3,3127.9C1654.6,3127.6 1660.2,3127.4 1665.3,3127.3C1670.4,3127.1 1675.4,3127.0 1679.9,3126.9C1684.4,3126.8 1689.6,3126.8 1692.4,3126.8C1695.1,3126.7 1695.7,3126.7 1696.4,3126.7" fill="none" stroke="#000000" stroke-width="9.4" stroke-linejoin="round" stroke-linecap="butt" clip-path="url(#cc)"/>
<path d="M210.8,3291.3C211.2,3291.3 210.7,3291.2 213.3,3291.4C215.9,3291.6 222.4,3293.8 226.6,3292.4C230.8,3291.1 234.4,3287.4 238.2,3283.1C242.1,3278.8 246.0,3272.3 249.9,3266.5C253.8,3260.7 257.9,3253.8 261.5,3248.2C265.1,3242.7 268.2,3238.0 271.5,3233.3C274.8,3228.5 279.0,3225.1 281.5,3220.0C284.0,3214.8 284.2,3208.7 286.5,3202.5C288.7,3196.2 292.0,3189.2 294.8,3182.5C297.5,3175.9 300.3,3168.6 303.1,3162.6C305.8,3156.5 308.3,3151.5 311.4,3145.9C314.4,3140.4 317.8,3133.8 321.4,3129.3C325.0,3124.8 328.8,3119.2 333.0,3118.7C337.2,3118.1 341.6,3123.2 346.3,3126.0C351.0,3128.7 356.8,3134.3 361.3,3135.3C365.7,3136.3 368.7,3133.6 372.9,3132.0C377.1,3130.3 381.8,3127.5 386.2,3125.3C390.6,3123.1 395.1,3118.3 399.5,3118.7C403.9,3119.0 408.4,3126.4 412.8,3127.6C417.2,3128.9 421.7,3128.1 426.1,3126.0C430.5,3123.9 435.0,3117.8 439.4,3115.0C443.8,3112.2 448.3,3111.7 452.7,3109.4C457.1,3107.0 461.0,3103.3 466.0,3101.0C471.0,3098.8 477.6,3096.7 482.6,3096.1C487.6,3095.4 491.5,3096.4 495.9,3097.0C500.4,3097.7 504.8,3100.4 509.2,3100.0C513.7,3099.7 518.1,3095.7 522.5,3095.1C527.0,3094.4 531.4,3095.1 535.8,3096.1C540.3,3097.0 544.7,3099.4 549.1,3101.0C553.6,3102.7 558.0,3105.2 562.4,3106.0C566.9,3106.9 571.3,3106.7 575.7,3106.0C580.2,3105.3 585.0,3103.6 589.0,3101.7C593.1,3099.8 596.5,3096.4 600.0,3094.4C603.5,3092.4 606.5,3091.1 609.9,3089.7C613.2,3088.2 616.2,3087.3 619.8,3085.7C623.4,3084.0 627.3,3080.8 631.5,3079.7C635.6,3078.6 640.6,3081.0 644.8,3079.0C648.9,3077.1 652.2,3071.5 656.4,3068.0C660.6,3064.5 665.3,3061.1 669.7,3058.1C674.1,3055.0 678.6,3052.0 683.0,3049.8C687.4,3047.5 691.9,3046.1 696.3,3044.8C700.7,3043.4 705.2,3042.5 709.6,3041.4C714.0,3040.3 718.5,3039.5 722.9,3038.1C727.3,3036.7 731.8,3034.5 736.2,3033.1C740.6,3031.7 745.1,3030.5 749.5,3029.8C753.9,3029.1 758.4,3029.4 762.8,3029.1C767.2,3028.9 771.7,3028.9 776.1,3028.1C780.5,3027.4 785.0,3025.2 789.4,3024.8C793.8,3024.4 798.3,3025.5 802.7,3025.8C807.1,3026.1 811.6,3025.8 816.0,3026.5C820.4,3027.1 824.9,3028.7 829.3,3029.8C833.7,3030.9 838.2,3032.0 842.6,3033.1C847.0,3034.2 851.5,3035.6 855.9,3036.5C860.3,3037.3 864.8,3036.7 869.2,3038.1C873.6,3039.5 878.1,3042.5 882.5,3044.8C886.9,3047.0 891.4,3048.5 895.8,3051.4C900.2,3054.4 904.7,3059.1 909.1,3062.4C913.5,3065.7 918.0,3068.5 922.4,3071.4C926.8,3074.2 931.1,3076.9 935.7,3079.7C940.3,3082.4 947.1,3086.3 950.0,3088.0C952.9,3089.6 950.5,3087.2 953.2,3089.5C956.0,3091.9 962.1,3098.0 966.5,3102.2C970.9,3106.3 975.4,3111.1 979.8,3114.5C984.2,3117.8 988.7,3119.3 993.1,3122.1C997.5,3124.9 1002.0,3128.1 1006.4,3131.1C1010.8,3134.1 1015.3,3136.6 1019.7,3140.1C1024.1,3143.6 1028.6,3148.7 1033.0,3152.0C1037.4,3155.4 1041.9,3157.4 1046.3,3160.0C1050.7,3162.6 1055.2,3165.0 1059.6,3167.7C1064.0,3170.3 1068.5,3172.8 1072.9,3176.0C1077.3,3179.1 1081.8,3183.3 1086.2,3186.6C1090.6,3189.9 1095.1,3193.4 1099.5,3195.9C1103.9,3198.5 1108.4,3200.0 1112.8,3201.9C1117.2,3203.9 1121.7,3205.3 1126.1,3207.6C1130.5,3209.8 1135.0,3213.0 1139.4,3215.2C1143.8,3217.4 1148.3,3218.5 1152.7,3220.9C1157.1,3223.2 1161.6,3226.1 1166.0,3229.2C1170.4,3232.2 1174.9,3236.1 1179.3,3239.2C1183.7,3242.2 1188.2,3245.8 1192.6,3247.5C1197.0,3249.1 1201.5,3248.7 1205.9,3249.1C1210.3,3249.6 1214.8,3250.2 1219.2,3250.1C1223.6,3250.0 1228.1,3249.5 1232.5,3248.5C1236.9,3247.5 1241.4,3246.1 1245.8,3244.1C1250.2,3242.1 1254.7,3239.3 1259.1,3236.5C1263.5,3233.7 1268.0,3231.0 1272.4,3227.5C1276.8,3224.1 1281.1,3220.9 1285.7,3215.9C1290.3,3210.9 1295.4,3202.9 1300.0,3197.6C1304.6,3192.3 1308.9,3189.0 1313.3,3184.3C1317.7,3179.6 1322.2,3174.3 1326.6,3169.3C1331.0,3164.3 1335.5,3159.2 1339.9,3154.4C1344.3,3149.5 1348.8,3144.3 1353.2,3140.1C1357.6,3135.8 1362.1,3131.9 1366.5,3128.8C1370.9,3125.6 1375.4,3123.2 1379.8,3121.1C1384.2,3119.0 1388.7,3117.6 1393.1,3116.1C1397.5,3114.6 1402.0,3113.7 1406.4,3112.1C1410.8,3110.6 1415.3,3108.0 1419.7,3106.8C1424.1,3105.7 1428.6,3105.5 1433.0,3105.2C1437.4,3104.8 1441.9,3104.7 1446.3,3104.5C1450.7,3104.3 1455.2,3104.0 1459.6,3104.2C1464.0,3104.3 1468.5,3104.7 1472.9,3105.5C1477.3,3106.3 1481.8,3107.9 1486.2,3108.8C1490.6,3109.8 1495.1,3110.5 1499.5,3111.1C1503.9,3111.8 1508.4,3112.0 1512.8,3112.8C1517.2,3113.6 1521.7,3115.0 1526.1,3116.1C1530.5,3117.2 1535.0,3118.5 1539.4,3119.5C1543.8,3120.4 1548.3,3121.3 1552.7,3122.1C1557.1,3122.9 1561.6,3123.7 1566.0,3124.4C1570.4,3125.2 1574.9,3126.2 1579.3,3126.8C1583.7,3127.4 1588.2,3127.8 1592.6,3128.1C1597.0,3128.4 1601.5,3128.5 1605.9,3128.8C1610.3,3129.0 1614.8,3129.1 1619.2,3129.4C1623.6,3129.7 1627.5,3130.0 1632.5,3130.4C1637.5,3130.9 1643.6,3131.5 1649.1,3132.1C1654.7,3132.6 1660.2,3133.3 1665.8,3133.7C1671.3,3134.2 1677.9,3134.7 1682.4,3135.1C1686.8,3135.5 1690.0,3135.8 1692.4,3136.1C1694.7,3136.3 1695.7,3136.4 1696.4,3136.5" fill="none" stroke="#008000" stroke-width="9.4" stroke-linejoin="round" stroke-linecap="butt" clip-path="url(#cc)"/>
<line x1="212.5" y1="3575.5" x2="212.5" y2="3585.3" stroke="#000" stroke-width="5.0" stroke-linecap="round"/>
<line x1="347.0" y1="3575.5" x2="347.0" y2="3585.3" stroke="#000" stroke-width="5.0" stroke-linecap="round"/>
<line x1="481.4" y1="3575.5" x2="481.4" y2="3585.3" stroke="#000" stroke-width="5.0" stroke-linecap="round"/>
<line x1="615.9" y1="3575.5" x2="615.9" y2="3585.3" stroke="#000" stroke-width="5.0" stroke-linecap="round"/>
<line x1="750.3" y1="3575.5" x2="750.3" y2="3585.3" stroke="#000" stroke-width="5.0" stroke-linecap="round"/>
<line x1="884.8" y1="3575.5" x2="884.8" y2="3585.3" stroke="#000" stroke-width="5.0" stroke-linecap="round"/>
<line x1="1019.2" y1="3575.5" x2="1019.2" y2="3585.3" stroke="#000" stroke-width="5.0" stroke-linecap="round"/>
<line x1="1153.7" y1="3575.5" x2="1153.7" y2="3585.3" stroke="#000" stroke-width="5.0" stroke-linecap="round"/>
<line x1="1288.1" y1="3575.5" x2="1288.1" y2="3585.3" stroke="#000" stroke-width="5.0" stroke-linecap="round"/>
<line x1="1422.6" y1="3575.5" x2="1422.6" y2="3585.3" stroke="#000" stroke-width="5.0" stroke-linecap="round"/>
<line x1="1557.0" y1="3575.5" x2="1557.0" y2="3585.3" stroke="#000" stroke-width="5.0" stroke-linecap="round"/>
<line x1="1691.5" y1="3575.5" x2="1691.5" y2="3585.3" stroke="#000" stroke-width="5.0" stroke-linecap="round"/>
<line x1="279.7" y1="3575.5" x2="279.7" y2="3595.3" stroke="#000" stroke-width="5.0" stroke-linecap="round"/>
<text transform="translate(279.7,3650.0) scale(1.000,1.075)" font-family='"Liberation Serif", "DejaVu Serif", serif' font-size="49.0" text-anchor="middle">210</text>
<line x1="414.2" y1="3575.5" x2="414.2" y2="3595.3" stroke="#000" stroke-width="5.0" stroke-linecap="round"/>
<text transform="translate(414.2,3650.0) scale(1.000,1.075)" font-family='"Liberation Serif", "DejaVu Serif", serif' font-size="49.0" text-anchor="middle">220</text>
<line x1="548.6" y1="3575.5" x2="548.6" y2="3595.3" stroke="#000" stroke-width="5.0" stroke-linecap="round"/>
<text transform="translate(548.6,3650.0) scale(1.000,1.075)" font-family='"Liberation Serif", "DejaVu Serif", serif' font-size="49.0" text-anchor="middle">230</text>
<line x1="683.1" y1="3575.5" x2="683.1" y2="3595.3" stroke="#000" stroke-width="5.0" stroke-linecap="round"/>
<text transform="translate(683.1,3650.0) scale(1.000,1.075)" font-family='"Liberation Serif", "DejaVu Serif", serif' font-size="49.0" text-anchor="middle">240</text>
<line x1="817.5" y1="3575.5" x2="817.5" y2="3595.3" stroke="#000" stroke-width="5.0" stroke-linecap="round"/>
<text transform="translate(817.5,3650.0) scale(1.000,1.075)" font-family='"Liberation Serif", "DejaVu Serif", serif' font-size="49.0" text-anchor="middle">250</text>
<line x1="952.0" y1="3575.5" x2="952.0" y2="3595.3" stroke="#000" stroke-width="5.0" stroke-linecap="round"/>
<text transform="translate(952.0,3650.0) scale(1.000,1.075)" font-family='"Liberation Serif", "DejaVu Serif", serif' font-size="49.0" text-anchor="middle">260</text>
<line x1="1086.5" y1="3575.5" x2="1086.5" y2="3595.3" stroke="#000" stroke-width="5.0" stroke-linecap="round"/>
<text transform="translate(1086.5,3650.0) scale(1.000,1.075)" font-family='"Liberation Serif", "DejaVu Serif", serif' font-size="49.0" text-anchor="middle">270</text>
<line x1="1220.9" y1="3575.5" x2="1220.9" y2="3595.3" stroke="#000" stroke-width="5.0" stroke-linecap="round"/>
<text transform="translate(1220.9,3650.0) scale(1.000,1.075)" font-family='"Liberation Serif", "DejaVu Serif", serif' font-size="49.0" text-anchor="middle">280</text>
<line x1="1355.4" y1="3575.5" x2="1355.4" y2="3595.3" stroke="#000" stroke-width="5.0" stroke-linecap="round"/>
<text transform="translate(1355.4,3650.0) scale(1.000,1.075)" font-family='"Liberation Serif", "DejaVu Serif", serif' font-size="49.0" text-anchor="middle">290</text>
<line x1="1489.8" y1="3575.5" x2="1489.8" y2="3595.3" stroke="#000" stroke-width="5.0" stroke-linecap="round"/>
<text transform="translate(1489.8,3650.0) scale(1.000,1.075)" font-family='"Liberation Serif", "DejaVu Serif", serif' font-size="49.0" text-anchor="middle">300</text>
<line x1="1624.3" y1="3575.5" x2="1624.3" y2="3595.3" stroke="#000" stroke-width="5.0" stroke-linecap="round"/>
<text transform="translate(1624.3,3650.0) scale(1.000,1.075)" font-family='"Liberation Serif", "DejaVu Serif", serif' font-size="49.0" text-anchor="middle">310</text>
<line x1="212.5" y1="3462.3" x2="202.5" y2="3462.3" stroke="#000" stroke-width="5.0" stroke-linecap="round"/>
<line x1="212.5" y1="3235.9" x2="202.5" y2="3235.9" stroke="#000" stroke-width="5.0" stroke-linecap="round"/>
<line x1="212.5" y1="3009.5" x2="202.5" y2="3009.5" stroke="#000" stroke-width="5.0" stroke-linecap="round"/>
<line x1="212.5" y1="2783.1" x2="202.5" y2="2783.1" stroke="#000" stroke-width="5.0" stroke-linecap="round"/>
<line x1="212.5" y1="2556.7" x2="202.5" y2="2556.7" stroke="#000" stroke-width="5.0" stroke-linecap="round"/>
<line x1="212.5" y1="3575.5" x2="192.5" y2="3575.5" stroke="#000" stroke-width="5.0" stroke-linecap="round"/>
<text transform="translate(178.0,3589.5) scale(1.000,1.075)" font-family='"Liberation Serif", "DejaVu Serif", serif' font-size="49.0" text-anchor="end">−10</text>
<line x1="212.5" y1="3349.1" x2="192.5" y2="3349.1" stroke="#000" stroke-width="5.0" stroke-linecap="round"/>
<text transform="translate(178.0,3363.1) scale(1.000,1.075)" font-family='"Liberation Serif", "DejaVu Serif", serif' font-size="49.0" text-anchor="end">−5</text>
<line x1="212.5" y1="3122.7" x2="192.5" y2="3122.7" stroke="#000" stroke-width="5.0" stroke-linecap="round"/>
<text transform="translate(178.0,3136.7) scale(1.000,1.075)" font-family='"Liberation Serif", "DejaVu Serif", serif' font-size="49.0" text-anchor="end">0</text>
<line x1="212.5" y1="2896.3" x2="192.5" y2="2896.3" stroke="#000" stroke-width="5.0" stroke-linecap="round"/>
<text transform="translate(178.0,2910.3) scale(1.000,1.075)" font-family='"Liberation Serif", "DejaVu Serif", serif' font-size="49.0" text-anchor="end">5</text>
<line x1="212.5" y1="2669.9" x2="192.5" y2="2669.9" stroke="#000" stroke-width="5.0" stroke-linecap="round"/>
<text transform="translate(178.0,2683.9) scale(1.000,1.075)" font-family='"Liberation Serif", "DejaVu Serif", serif' font-size="49.0" text-anchor="end">10</text>
<line x1="212.5" y1="2443.5" x2="192.5" y2="2443.5" stroke="#000" stroke-width="5.0" stroke-linecap="round"/>
<text transform="translate(178.0,2457.5) scale(1.000,1.075)" font-family='"Liberation Serif", "DejaVu Serif", serif' font-size="49.0" text-anchor="end">15</text>
<text transform="translate(913.0,3712.6) scale(1.000,1.035)" font-family='"Liberation Sans", "DejaVu Sans", sans-serif' font-size="54.0" text-anchor="middle" stroke="#000" stroke-width="0.5">wavelength (nm)</text>
<text stroke="#000" stroke-width="0.15" transform="translate(109.7,3010.7) rotate(-90) scale(0.978,1.03)" font-family='"Liberation Sans", "DejaVu Sans", sans-serif' font-size="60.0" text-anchor="middle"><tspan font-family='"Liberation Serif", "DejaVu Serif", serif'>Δε</tspan> (M<tspan font-size="37.5" dy="-26.5">−1</tspan><tspan dy="26.5">cm</tspan><tspan font-size="37.5" dy="-26.5">−1</tspan><tspan dy="26.5">)</tspan></text>
<text transform="translate(57.2,2441.0) scale(0.950,1.000)" font-family='"Liberation Sans", "DejaVu Sans", sans-serif' font-size="60.0" text-anchor="start">(c)</text>
<rect x="1035.3" y="2480.3" width="571" height="281.5" fill="#fff" stroke="#000" stroke-width="2"/>
<line x1="1042.1" y1="2519.4" x2="1163.7" y2="2519.4" stroke="#0000ff" stroke-width="9.3" stroke-linecap="round"/>
<text transform="translate(1177.5,2537.8) scale(1.000,1.040)" font-family='"Liberation Sans", "DejaVu Sans", sans-serif' font-size="54.0" text-anchor="start" stroke="#000" stroke-width="0.5" textLength="424.0" lengthAdjust="spacing">penicistekin A (<tspan font-weight="bold">2</tspan>)</text>
<line x1="1042.1" y1="2587.9" x2="1163.7" y2="2587.9" stroke="#ff0000" stroke-width="9.3" stroke-linecap="round"/>
<text transform="translate(1177.5,2606.3) scale(1.000,1.040)" font-family='"Liberation Sans", "DejaVu Sans", sans-serif' font-size="54.0" text-anchor="start" stroke="#000" stroke-width="0.5" textLength="424.0" lengthAdjust="spacing">penicistekin B (<tspan font-weight="bold">3</tspan>)</text>
<line x1="1042.1" y1="2656.4" x2="1163.7" y2="2656.4" stroke="#000000" stroke-width="9.3" stroke-linecap="round"/>
<text transform="translate(1177.5,2674.8) scale(1.000,1.040)" font-family='"Liberation Sans", "DejaVu Sans", sans-serif' font-size="54.0" text-anchor="start" stroke="#000" stroke-width="0.5" textLength="424.0" lengthAdjust="spacing">penicistekin C (<tspan font-weight="bold">4</tspan>)</text>
<line x1="1042.1" y1="2724.9" x2="1163.7" y2="2724.9" stroke="#008000" stroke-width="9.3" stroke-linecap="round"/>
<text transform="translate(1177.5,2743.3) scale(1.000,1.040)" font-family='"Liberation Sans", "DejaVu Sans", sans-serif' font-size="54.0" text-anchor="start" stroke="#000" stroke-width="0.5" textLength="424.0" lengthAdjust="spacing">penicistekin D (<tspan font-weight="bold">5</tspan>)</text>
</g>
<g id="structure">
<defs><radialGradient id="gred" cx="0.36" cy="0.38" r="0.75" fx="0.34" fy="0.36"><stop offset="0" stop-color="#ffffff"/><stop offset="0.2" stop-color="#ffffff"/><stop offset="0.62" stop-color="#ff8a8a"/><stop offset="1" stop-color="#ff2a2a"/></radialGradient><radialGradient id="gblue" cx="0.3" cy="0.3" r="0.8" fx="0.25" fy="0.25"><stop offset="0" stop-color="#ffffff"/><stop offset="0.3" stop-color="#f0f0ff"/><stop offset="1" stop-color="#7070ff"/></radialGradient></defs>
<ellipse cx="1310.6" cy="360.5" rx="18.0" ry="45.1" fill="url(#gred)" stroke="#ff0000" stroke-width="5"/>
<circle cx="1506.1" cy="284.0" r="11.8" fill="url(#gblue)" stroke="#0000ff" stroke-width="5"/>
<circle cx="1506.1" cy="433.5" r="11.8" fill="url(#gblue)" stroke="#0000ff" stroke-width="5"/>
<line x1="1311.8" y1="172.1" x2="1376.6" y2="209.5" stroke="#000" stroke-width="5.0" stroke-linecap="round"/>
<line x1="1376.6" y1="209.5" x2="1376.6" y2="284.3" stroke="#000" stroke-width="5.0" stroke-linecap="round"/>
<line x1="1376.6" y1="284.3" x2="1311.8" y2="321.7" stroke="#000" stroke-width="5.0" stroke-linecap="round"/>
<line x1="1247.0" y1="284.3" x2="1247.0" y2="209.5" stroke="#000" stroke-width="5.0" stroke-linecap="round"/>
<line x1="1247.0" y1="209.5" x2="1311.8" y2="172.1" stroke="#000" stroke-width="5.0" stroke-linecap="round"/>
<line x1="1311.7" y1="187.4" x2="1363.9" y2="217.5" stroke="#000" stroke-width="4.6" stroke-linecap="butt"/>
<line x1="1363.3" y1="276.6" x2="1311.2" y2="306.7" stroke="#000" stroke-width="4.6" stroke-linecap="butt"/>
<line x1="1260.3" y1="276.7" x2="1260.3" y2="216.5" stroke="#000" stroke-width="4.6" stroke-linecap="butt"/>
<path d="M1247.0,284.3L1246.9,285.4L1246.9,286.5L1247.0,287.4L1247.2,288.0L1247.5,288.4L1248.0,288.5L1248.7,288.4L1249.5,288.0L1250.4,287.4L1251.3,286.8L1252.3,286.2L1253.2,285.6L1254.0,285.2L1254.6,285.1L1255.1,285.2L1255.5,285.6L1255.7,286.2L1255.8,287.1L1255.7,288.2L1255.7,289.3L1255.6,290.4L1255.6,291.5L1255.6,292.3L1255.8,293.0L1256.2,293.4L1256.7,293.5L1257.3,293.3L1258.1,293.0L1259.0,292.4L1260.0,291.8L1260.9,291.1L1261.8,290.6L1262.6,290.2L1263.3,290.1L1263.8,290.2L1264.1,290.6L1264.3,291.2L1264.4,292.1L1264.4,293.1L1264.3,294.3L1264.2,295.4L1264.2,296.5L1264.3,297.3L1264.5,298.0L1264.8,298.4L1265.3,298.5L1266.0,298.3L1266.8,297.9L1267.7,297.4L1268.6,296.8L1269.6,296.1L1270.4,295.6L1271.2,295.2L1271.9,295.0L1272.4,295.2L1272.8,295.5L1273.0,296.2L1273.0,297.1L1273.0,298.1L1272.9,299.3L1272.9,300.4L1272.8,301.4L1272.9,302.3L1273.1,303.0L1273.4,303.4L1274.0,303.5L1274.6,303.3L1275.4,302.9L1276.3,302.4L1277.3,301.8L1278.2,301.1L1279.1,300.6L1279.9,300.2L1280.5,300.0L1281.1,300.1L1281.4,300.5L1281.6,301.2L1281.7,302.1L1281.6,303.1L1281.6,304.2L1281.5,305.4L1281.5,306.4L1281.5,307.3L1281.7,308.0L1282.1,308.4L1282.6,308.5L1283.3,308.3L1284.1,307.9L1284.9,307.4L1285.9,306.7L1286.8,306.1L1287.7,305.6L1288.5,305.2L1289.2,305.0L1289.7,305.1L1290.0,305.5L1290.2,306.2L1290.3,307.1L1290.3,308.1L1290.2,309.2L1290.1,310.4L1290.1,311.4L1290.2,312.3L1290.4,312.9L1290.7,313.3L1291.2,313.4L1291.9,313.3L1292.7,312.9L1293.6,312.4L1294.5,311.7L1295.5,311.1L1296.4,310.5L1297.2,310.2L1297.8,310.0L1298.3,310.1L1298.7,310.5L1298.9,311.2L1299.0,312.0L1298.9,313.1L1298.8,314.2L1298.8,315.4L1298.7,316.4L1298.8,317.3L1299.0,317.9L1299.4,318.3L1299.9,318.4L1300.5,318.3L1301.3,317.9L1302.2,317.3L1303.2,316.7L1304.1,316.1L1305.0,315.5L1305.8,315.1L1306.5,315.0L1307.0,315.1L1307.3,315.5L1307.5,316.1L1307.6,317.0L1307.6,318.1L1307.5,319.2L1307.4,320.3L1307.4,321.4L1307.4,322.3L1307.6,322.9L1308.0,323.3L1308.5,323.4L1309.2,323.3L1310.0,322.9L1310.9,322.3L1311.8,321.7" fill="none" stroke="#000" stroke-width="4.4" stroke-linejoin="round" stroke-linecap="round"/>
<line x1="1376.6" y1="209.5" x2="1441.4" y2="172.1" stroke="#000" stroke-width="5.0" stroke-linecap="round"/>
<line x1="1441.4" y1="172.1" x2="1491.2" y2="200.8" stroke="#000" stroke-width="5.0" stroke-linecap="round"/>
<line x1="1506.1" y1="225.9" x2="1506.1" y2="284.3" stroke="#000" stroke-width="5.0" stroke-linecap="round"/>
<line x1="1506.1" y1="284.3" x2="1441.4" y2="321.7" stroke="#000" stroke-width="5.0" stroke-linecap="round"/>
<line x1="1441.4" y1="321.7" x2="1376.6" y2="284.3" stroke="#000" stroke-width="5.0" stroke-linecap="round"/>
<line x1="1311.8" y1="172.1" x2="1311.8" y2="114.4" stroke="#000" stroke-width="5.0" stroke-linecap="round"/>
<line x1="1247.0" y1="209.5" x2="1197.0" y2="180.6" stroke="#000" stroke-width="5.0" stroke-linecap="round"/>
<path d="M1505.0,286.3 L1550.6,315.3 L1555.6,306.5 L1507.3,282.3 Z" fill="#000"/>
<line x1="1311.8" y1="321.7" x2="1311.8" y2="396.1" stroke="#000" stroke-width="5.4" stroke-linecap="round"/>
<line x1="1311.8" y1="396.1" x2="1376.6" y2="433.5" stroke="#000" stroke-width="5.0" stroke-linecap="round"/>
<line x1="1376.6" y1="433.5" x2="1376.6" y2="508.3" stroke="#000" stroke-width="5.0" stroke-linecap="round"/>
<line x1="1376.6" y1="508.3" x2="1311.8" y2="545.7" stroke="#000" stroke-width="5.0" stroke-linecap="round"/>
<line x1="1311.8" y1="545.7" x2="1247.0" y2="508.3" stroke="#000" stroke-width="5.0" stroke-linecap="round"/>
<line x1="1247.0" y1="508.3" x2="1247.0" y2="433.5" stroke="#000" stroke-width="5.0" stroke-linecap="round"/>
<line x1="1247.0" y1="433.5" x2="1311.8" y2="396.1" stroke="#000" stroke-width="5.0" stroke-linecap="round"/>
<line x1="1311.7" y1="411.4" x2="1363.9" y2="441.5" stroke="#000" stroke-width="4.6" stroke-linecap="butt"/>
<line x1="1363.3" y1="500.6" x2="1311.2" y2="530.7" stroke="#000" stroke-width="4.6" stroke-linecap="butt"/>
<line x1="1260.3" y1="500.7" x2="1260.3" y2="440.5" stroke="#000" stroke-width="4.6" stroke-linecap="butt"/>
<line x1="1376.6" y1="433.5" x2="1441.4" y2="396.1" stroke="#000" stroke-width="5.0" stroke-linecap="round"/>
<line x1="1441.4" y1="396.1" x2="1506.1" y2="433.5" stroke="#000" stroke-width="5.0" stroke-linecap="round"/>
<line x1="1506.1" y1="433.5" x2="1506.1" y2="492.1" stroke="#000" stroke-width="5.0" stroke-linecap="round"/>
<line x1="1491.0" y1="517.0" x2="1441.4" y2="545.7" stroke="#000" stroke-width="5.0" stroke-linecap="round"/>
<line x1="1441.4" y1="545.7" x2="1376.6" y2="508.3" stroke="#000" stroke-width="5.0" stroke-linecap="round"/>
<line x1="1247.0" y1="433.5" x2="1197.0" y2="404.6" stroke="#000" stroke-width="5.0" stroke-linecap="round"/>
<line x1="1247.0" y1="508.3" x2="1197.0" y2="537.2" stroke="#000" stroke-width="5.0" stroke-linecap="round"/>
<line x1="1311.8" y1="545.7" x2="1311.8" y2="602.7" stroke="#000" stroke-width="5.0" stroke-linecap="round"/>
<line x1="1516.8" y1="432.2" x2="1512.7" y2="425.0" stroke="#000" stroke-width="4.3"/>
<line x1="1524.1" y1="428.5" x2="1519.6" y2="420.6" stroke="#000" stroke-width="4.3"/>
<line x1="1531.5" y1="424.9" x2="1526.6" y2="416.2" stroke="#000" stroke-width="4.3"/>
<line x1="1538.8" y1="421.2" x2="1533.5" y2="411.8" stroke="#000" stroke-width="4.3"/>
<line x1="1546.2" y1="417.5" x2="1540.4" y2="407.3" stroke="#000" stroke-width="4.3"/>
<line x1="1553.5" y1="413.9" x2="1547.3" y2="402.9" stroke="#000" stroke-width="4.3"/>
<text x="1298.5" y="109.6" font-family='"Liberation Sans", "DejaVu Sans", sans-serif' font-size="34.5" text-anchor="start" stroke="#000" stroke-width="0.6">OMe</text>
<text x="1195.5" y="184.6" font-family='"Liberation Sans", "DejaVu Sans", sans-serif' font-size="34.5" text-anchor="end" stroke="#000" stroke-width="0.6">MeO</text>
<text x="1195.5" y="408.1" font-family='"Liberation Sans", "DejaVu Sans", sans-serif' font-size="34.5" text-anchor="end" stroke="#000" stroke-width="0.6">MeO</text>
<text x="1195.5" y="557.3" font-family='"Liberation Sans", "DejaVu Sans", sans-serif' font-size="34.5" text-anchor="end" stroke="#000" stroke-width="0.6">MeO</text>
<text x="1298.5" y="632.2" font-family='"Liberation Sans", "DejaVu Sans", sans-serif' font-size="34.5" text-anchor="start" stroke="#000" stroke-width="0.6">OMe</text>
<text x="1505.8" y="221.7" font-family='"Liberation Sans", "DejaVu Sans", sans-serif' font-size="34.5" text-anchor="middle" stroke="#000" stroke-width="0.6">O</text>
<text x="1505.8" y="520.4" font-family='"Liberation Sans", "DejaVu Sans", sans-serif' font-size="34.5" text-anchor="middle" stroke="#000" stroke-width="0.6">O</text>
<text x="1556.5" y="333.6" font-family='"Liberation Sans", "DejaVu Sans", sans-serif' font-size="34.5" text-anchor="start" stroke="#000" stroke-width="0.6">Me</text>
<text x="1556.5" y="407.8" font-family='"Liberation Sans", "DejaVu Sans", sans-serif' font-size="34.5" text-anchor="start" stroke="#000" stroke-width="0.6">Me</text>
<text x="1495.0" y="334.8" font-family='"Liberation Sans", "DejaVu Sans", sans-serif' font-size="34.5" text-anchor="start" stroke="#000" stroke-width="0.6">3<tspan dx="3.5">'</tspan></text>
<text x="1494.5" y="405.8" font-family='"Liberation Sans", "DejaVu Sans", sans-serif' font-size="34.5" text-anchor="start" stroke="#000" stroke-width="0.6">3</text>
<text x="1172.7" y="694.2" font-family='"Liberation Sans", "DejaVu Sans", sans-serif' font-size="52" stroke="#000" stroke-width="0.5" textLength="425" lengthAdjust="spacing">(a<tspan font-style="italic">S</tspan>/a<tspan font-style="italic">R</tspan>,3<tspan font-style="italic">S</tspan>,3'<tspan font-style="italic">S</tspan>)-<tspan font-weight="bold">28</tspan></text>
</g>
</svg></body></html>
